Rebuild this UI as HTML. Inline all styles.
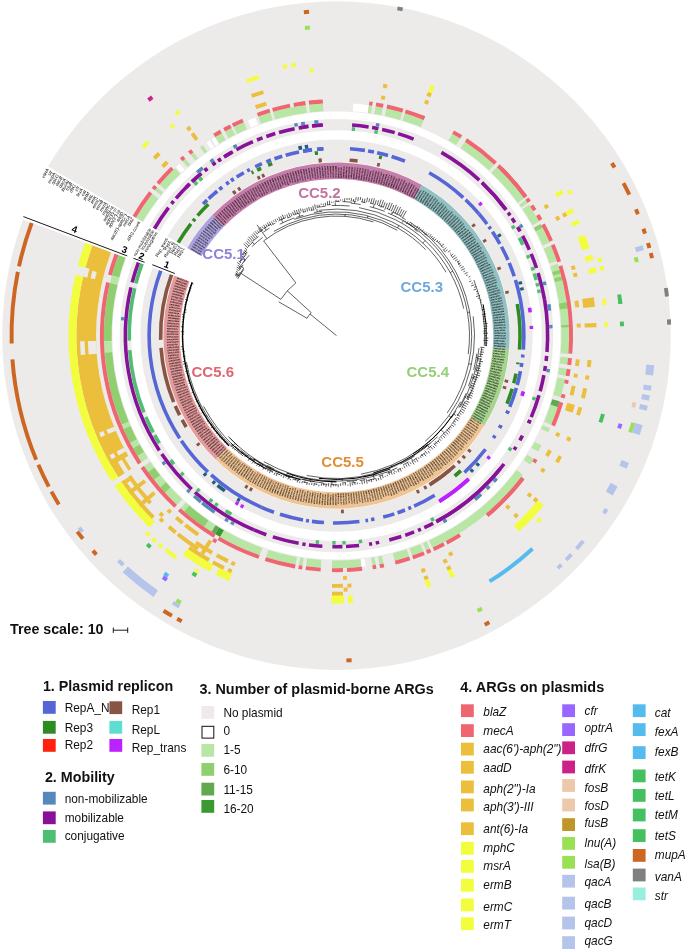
<!DOCTYPE html>
<html><head><meta charset="utf-8"><title>CC5 plasmid ARG tree</title>
<style>
html,body{margin:0;padding:0;background:#fff;}
body{width:685px;height:950px;overflow:hidden;position:relative;font-family:"Liberation Sans",Arial,sans-serif;}
svg{position:absolute;left:0;top:0;}
text{font-family:"Liberation Sans",Arial,sans-serif;}
</style></head><body>
<svg width="685" height="950" viewBox="0 0 685 950">
<circle cx="336.5" cy="335.6" r="334.3" fill="#EDEAEA"/>
<circle cx="336.5" cy="335.6" r="220.35" fill="none" stroke="#fff" stroke-width="7.30"/>
<circle cx="336.5" cy="335.6" r="200.75" fill="none" stroke="#fff" stroke-width="9.10"/>
<circle cx="336.5" cy="335.6" r="173.6" fill="#fff"/>
<path d="M215.60 459.49A173.10 173.10 0 0 1 174.15 275.55L189.53 281.24A156.70 156.70 0 0 0 227.06 447.75Z" fill="#E59A9C"/>
<path d="M484.41 425.53A173.10 173.10 0 0 1 215.60 459.49L227.06 447.75A156.70 156.70 0 0 0 470.39 417.01Z" fill="#F0C596"/>
<path d="M509.09 348.88A173.10 173.10 0 0 1 484.41 425.53L470.39 417.01A156.70 156.70 0 0 0 492.74 347.62Z" fill="#A6D48F"/>
<path d="M422.00 185.09A173.10 173.10 0 0 1 509.09 348.88L492.74 347.62A156.70 156.70 0 0 0 413.90 199.35Z" fill="#93C0C2"/>
<path d="M211.98 215.35A173.10 173.10 0 0 1 422.00 185.09L413.90 199.35A156.70 156.70 0 0 0 223.78 226.75Z" fill="#C57DA9"/>
<path d="M187.20 248.01A173.10 173.10 0 0 1 211.98 215.35L223.78 226.75A156.70 156.70 0 0 0 201.34 256.30Z" fill="#ADA3DC"/>
<g font-size="10" fill="#000" font-weight="bold"><text transform="translate(176.87 278.01) rotate(19.84) scale(0.195)" y="3.5" text-anchor="start">SRR5979190</text><text transform="translate(175.97 280.58) rotate(18.92) scale(0.195)" y="3.5" text-anchor="start">DRR8337887</text><text transform="translate(175.10 283.17) rotate(18.00) scale(0.195)" y="3.5" text-anchor="start">DRR3286012</text><text transform="translate(174.28 285.77) rotate(17.08) scale(0.195)" y="3.5" text-anchor="start">SRR4047966</text><text transform="translate(173.50 288.38) rotate(16.16) scale(0.195)" y="3.5" text-anchor="start">DRR251027</text><text transform="translate(172.76 291.00) rotate(15.24) scale(0.195)" y="3.5" text-anchor="start">SRR6468695</text><text transform="translate(172.07 293.64) rotate(14.31) scale(0.195)" y="3.5" text-anchor="start">SRR935049</text><text transform="translate(171.42 296.29) rotate(13.39) scale(0.195)" y="3.5" text-anchor="start">SRR8991394</text><text transform="translate(170.81 298.95) rotate(12.47) scale(0.195)" y="3.5" text-anchor="start">ERR1771516</text><text transform="translate(170.24 301.61) rotate(11.55) scale(0.195)" y="3.5" text-anchor="start">SRR4661099</text><text transform="translate(169.71 304.29) rotate(10.63) scale(0.195)" y="3.5" text-anchor="start">ERR958483</text><text transform="translate(169.23 306.98) rotate(9.71) scale(0.195)" y="3.5" text-anchor="start">ERR0119803</text><text transform="translate(168.79 309.67) rotate(8.79) scale(0.195)" y="3.5" text-anchor="start">DRR9420555</text><text transform="translate(168.40 312.37) rotate(7.87) scale(0.195)" y="3.5" text-anchor="start">SRR678698</text><text transform="translate(168.05 315.07) rotate(6.95) scale(0.195)" y="3.5" text-anchor="start">ERR6346484</text><text transform="translate(167.74 317.78) rotate(6.03) scale(0.195)" y="3.5" text-anchor="start">SRR0695069</text><text transform="translate(167.47 320.49) rotate(5.11) scale(0.195)" y="3.5" text-anchor="start">SRR0575594</text><text transform="translate(167.25 323.21) rotate(4.19) scale(0.195)" y="3.5" text-anchor="start">DRR9005474</text><text transform="translate(167.08 325.93) rotate(3.27) scale(0.195)" y="3.5" text-anchor="start">SRR2525594</text><text transform="translate(166.94 328.66) rotate(2.34) scale(0.195)" y="3.5" text-anchor="start">ERR109248</text><text transform="translate(166.85 331.38) rotate(1.42) scale(0.195)" y="3.5" text-anchor="start">SRR3526119</text><text transform="translate(166.81 334.11) rotate(0.50) scale(0.195)" y="3.5" text-anchor="start">ERR3721539</text><text transform="translate(166.80 336.84) rotate(-0.42) scale(0.195)" y="3.5" text-anchor="start">DRR3108359</text><text transform="translate(166.85 339.56) rotate(-1.34) scale(0.195)" y="3.5" text-anchor="start">SRR5195926</text><text transform="translate(166.93 342.29) rotate(-2.26) scale(0.195)" y="3.5" text-anchor="start">ERR7564696</text><text transform="translate(167.06 345.01) rotate(-3.18) scale(0.195)" y="3.5" text-anchor="start">ERR230798</text><text transform="translate(167.23 347.74) rotate(-4.10) scale(0.195)" y="3.5" text-anchor="start">DRR0784853</text><text transform="translate(167.45 350.45) rotate(-5.02) scale(0.195)" y="3.5" text-anchor="start">ERR1300836</text><text transform="translate(167.71 353.17) rotate(-5.94) scale(0.195)" y="3.5" text-anchor="start">SRR0712843</text><text transform="translate(168.02 355.88) rotate(-6.86) scale(0.195)" y="3.5" text-anchor="start">ERR091524</text><text transform="translate(168.36 358.58) rotate(-7.78) scale(0.195)" y="3.5" text-anchor="start">SRR053318</text><text transform="translate(168.75 361.28) rotate(-8.70) scale(0.195)" y="3.5" text-anchor="start">ERR3420796</text><text transform="translate(169.19 363.98) rotate(-9.63) scale(0.195)" y="3.5" text-anchor="start">ERR3498860</text><text transform="translate(169.67 366.66) rotate(-10.55) scale(0.195)" y="3.5" text-anchor="start">DRR0020101</text><text transform="translate(170.19 369.34) rotate(-11.47) scale(0.195)" y="3.5" text-anchor="start">DRR1887525</text><text transform="translate(170.75 372.01) rotate(-12.39) scale(0.195)" y="3.5" text-anchor="start">ERR6694543</text><text transform="translate(171.36 374.66) rotate(-13.31) scale(0.195)" y="3.5" text-anchor="start">ERR128061</text><text transform="translate(172.01 377.31) rotate(-14.23) scale(0.195)" y="3.5" text-anchor="start">SRR0579860</text><text transform="translate(172.70 379.95) rotate(-15.15) scale(0.195)" y="3.5" text-anchor="start">SRR057566</text><text transform="translate(173.43 382.58) rotate(-16.07) scale(0.195)" y="3.5" text-anchor="start">DRR3384916</text><text transform="translate(174.21 385.19) rotate(-16.99) scale(0.195)" y="3.5" text-anchor="start">SRR205584</text><text transform="translate(175.03 387.79) rotate(-17.91) scale(0.195)" y="3.5" text-anchor="start">ERR186159</text><text transform="translate(175.89 390.38) rotate(-18.83) scale(0.195)" y="3.5" text-anchor="start">SRR9072360</text><text transform="translate(176.79 392.96) rotate(-19.75) scale(0.195)" y="3.5" text-anchor="start">SRR9162051</text><text transform="translate(177.73 395.52) rotate(-20.68) scale(0.195)" y="3.5" text-anchor="start">ERR7494109</text><text transform="translate(178.71 398.06) rotate(-21.60) scale(0.195)" y="3.5" text-anchor="start">SRR1818085</text><text transform="translate(179.74 400.59) rotate(-22.52) scale(0.195)" y="3.5" text-anchor="start">SRR1323796</text><text transform="translate(180.80 403.10) rotate(-23.44) scale(0.195)" y="3.5" text-anchor="start">ERR9658616</text><text transform="translate(181.91 405.59) rotate(-24.36) scale(0.195)" y="3.5" text-anchor="start">SRR6269987</text><text transform="translate(183.05 408.07) rotate(-25.28) scale(0.195)" y="3.5" text-anchor="start">SRR221778</text><text transform="translate(184.24 410.52) rotate(-26.20) scale(0.195)" y="3.5" text-anchor="start">DRR2432985</text><text transform="translate(185.46 412.96) rotate(-27.12) scale(0.195)" y="3.5" text-anchor="start">SRR6999434</text><text transform="translate(186.72 415.38) rotate(-28.04) scale(0.195)" y="3.5" text-anchor="start">ERR7632953</text><text transform="translate(188.02 417.77) rotate(-28.96) scale(0.195)" y="3.5" text-anchor="start">ERR267937</text><text transform="translate(189.36 420.15) rotate(-29.88) scale(0.195)" y="3.5" text-anchor="start">SRR7160733</text><text transform="translate(190.74 422.50) rotate(-30.80) scale(0.195)" y="3.5" text-anchor="start">ERR4334229</text><text transform="translate(192.16 424.83) rotate(-31.72) scale(0.195)" y="3.5" text-anchor="start">ERR2052611</text><text transform="translate(193.61 427.14) rotate(-32.65) scale(0.195)" y="3.5" text-anchor="start">ERR4405795</text><text transform="translate(195.10 429.43) rotate(-33.57) scale(0.195)" y="3.5" text-anchor="start">ERR5566713</text><text transform="translate(196.62 431.69) rotate(-34.49) scale(0.195)" y="3.5" text-anchor="start">SRR628514</text><text transform="translate(198.19 433.92) rotate(-35.41) scale(0.195)" y="3.5" text-anchor="start">ERR178418</text><text transform="translate(199.78 436.13) rotate(-36.33) scale(0.195)" y="3.5" text-anchor="start">ERR7441598</text><text transform="translate(201.42 438.32) rotate(-37.25) scale(0.195)" y="3.5" text-anchor="start">SRR7850492</text><text transform="translate(203.09 440.47) rotate(-38.17) scale(0.195)" y="3.5" text-anchor="start">SRR5711825</text><text transform="translate(204.79 442.60) rotate(-39.09) scale(0.195)" y="3.5" text-anchor="start">SRR842774</text><text transform="translate(206.52 444.71) rotate(-40.01) scale(0.195)" y="3.5" text-anchor="start">SRR1288965</text><text transform="translate(208.29 446.78) rotate(-40.93) scale(0.195)" y="3.5" text-anchor="start">ERR4602078</text><text transform="translate(210.10 448.83) rotate(-41.85) scale(0.195)" y="3.5" text-anchor="start">ERR8556781</text><text transform="translate(211.93 450.84) rotate(-42.77) scale(0.195)" y="3.5" text-anchor="start">ERR124911</text><text transform="translate(213.80 452.83) rotate(-43.69) scale(0.195)" y="3.5" text-anchor="start">SRR2396629</text><text transform="translate(215.70 454.79) rotate(-44.62) scale(0.195)" y="3.5" text-anchor="start">SRR6388292</text><text transform="translate(217.63 456.71) rotate(-45.54) scale(0.195)" y="3.5" text-anchor="start">SRR5407665</text><text transform="translate(219.59 458.61) rotate(-46.46) scale(0.195)" y="3.5" text-anchor="start">SRR7847093</text><text transform="translate(221.59 460.47) rotate(-47.38) scale(0.195)" y="3.5" text-anchor="start">ERR3728733</text><text transform="translate(223.61 462.30) rotate(-48.30) scale(0.195)" y="3.5" text-anchor="start">SRR0871942</text><text transform="translate(225.66 464.10) rotate(-49.22) scale(0.195)" y="3.5" text-anchor="start">SRR190059</text><text transform="translate(227.74 465.86) rotate(-50.14) scale(0.195)" y="3.5" text-anchor="start">SRR7805555</text><text transform="translate(229.85 467.60) rotate(-51.06) scale(0.195)" y="3.5" text-anchor="start">SRR9015313</text><text transform="translate(231.98 469.29) rotate(-51.98) scale(0.195)" y="3.5" text-anchor="start">DRR7510613</text><text transform="translate(234.14 470.95) rotate(-52.90) scale(0.195)" y="3.5" text-anchor="start">SRR771863</text><text transform="translate(236.33 472.58) rotate(-53.82) scale(0.195)" y="3.5" text-anchor="start">DRR0776727</text><text transform="translate(238.54 474.17) rotate(-54.74) scale(0.195)" y="3.5" text-anchor="start">ERR5578596</text><text transform="translate(240.78 475.73) rotate(-55.67) scale(0.195)" y="3.5" text-anchor="start">SRR3452783</text><text transform="translate(243.05 477.25) rotate(-56.59) scale(0.195)" y="3.5" text-anchor="start">SRR0296820</text><text transform="translate(245.34 478.73) rotate(-57.51) scale(0.195)" y="3.5" text-anchor="start">SRR9277200</text><text transform="translate(247.65 480.18) rotate(-58.43) scale(0.195)" y="3.5" text-anchor="start">DRR560036</text><text transform="translate(249.98 481.59) rotate(-59.35) scale(0.195)" y="3.5" text-anchor="start">ERR703316</text><text transform="translate(252.34 482.96) rotate(-60.27) scale(0.195)" y="3.5" text-anchor="start">DRR2591519</text><text transform="translate(254.72 484.29) rotate(-61.19) scale(0.195)" y="3.5" text-anchor="start">ERR4747384</text><text transform="translate(257.12 485.59) rotate(-62.11) scale(0.195)" y="3.5" text-anchor="start">ERR5510619</text><text transform="translate(259.54 486.85) rotate(-63.03) scale(0.195)" y="3.5" text-anchor="start">SRR1010280</text><text transform="translate(261.98 488.06) rotate(-63.95) scale(0.195)" y="3.5" text-anchor="start">DRR3853757</text><text transform="translate(264.44 489.24) rotate(-64.87) scale(0.195)" y="3.5" text-anchor="start">ERR6496142</text><text transform="translate(266.92 490.38) rotate(-65.79) scale(0.195)" y="3.5" text-anchor="start">DRR8685862</text><text transform="translate(269.42 491.48) rotate(-66.71) scale(0.195)" y="3.5" text-anchor="start">DRR2567377</text><text transform="translate(271.93 492.54) rotate(-67.64) scale(0.195)" y="3.5" text-anchor="start">ERR2896702</text><text transform="translate(274.46 493.55) rotate(-68.56) scale(0.195)" y="3.5" text-anchor="start">SRR7115390</text><text transform="translate(277.01 494.53) rotate(-69.48) scale(0.195)" y="3.5" text-anchor="start">SRR7755013</text><text transform="translate(279.57 495.46) rotate(-70.40) scale(0.195)" y="3.5" text-anchor="start">DRR5941713</text><text transform="translate(282.14 496.36) rotate(-71.32) scale(0.195)" y="3.5" text-anchor="start">SRR2290134</text><text transform="translate(284.73 497.21) rotate(-72.24) scale(0.195)" y="3.5" text-anchor="start">SRR8868958</text><text transform="translate(287.34 498.02) rotate(-73.16) scale(0.195)" y="3.5" text-anchor="start">SRR291019</text><text transform="translate(289.95 498.79) rotate(-74.08) scale(0.195)" y="3.5" text-anchor="start">ERR3411763</text><text transform="translate(292.58 499.52) rotate(-75.00) scale(0.195)" y="3.5" text-anchor="start">SRR7569714</text><text transform="translate(295.22 500.20) rotate(-75.92) scale(0.195)" y="3.5" text-anchor="start">SRR631807</text><text transform="translate(297.87 500.85) rotate(-76.84) scale(0.195)" y="3.5" text-anchor="start">ERR5537185</text><text transform="translate(300.53 501.44) rotate(-77.76) scale(0.195)" y="3.5" text-anchor="start">DRR9833505</text><text transform="translate(303.20 502.00) rotate(-78.68) scale(0.195)" y="3.5" text-anchor="start">SRR714352</text><text transform="translate(305.88 502.52) rotate(-79.61) scale(0.195)" y="3.5" text-anchor="start">SRR9786539</text><text transform="translate(308.57 502.99) rotate(-80.53) scale(0.195)" y="3.5" text-anchor="start">DRR679040</text><text transform="translate(311.26 503.41) rotate(-81.45) scale(0.195)" y="3.5" text-anchor="start">SRR0248807</text><text transform="translate(313.96 503.80) rotate(-82.37) scale(0.195)" y="3.5" text-anchor="start">ERR3476057</text><text transform="translate(316.67 504.14) rotate(-83.29) scale(0.195)" y="3.5" text-anchor="start">SRR2174671</text><text transform="translate(319.38 504.43) rotate(-84.21) scale(0.195)" y="3.5" text-anchor="start">SRR7465264</text><text transform="translate(322.09 504.69) rotate(-85.13) scale(0.195)" y="3.5" text-anchor="start">DRR883544</text><text transform="translate(324.81 504.90) rotate(-86.05) scale(0.195)" y="3.5" text-anchor="start">ERR554380</text><text transform="translate(327.54 505.06) rotate(-86.97) scale(0.195)" y="3.5" text-anchor="start">ERR8280200</text><text transform="translate(330.26 505.19) rotate(-87.89) scale(0.195)" y="3.5" text-anchor="start">SRR558072</text><text transform="translate(332.99 505.26) rotate(-88.81) scale(0.195)" y="3.5" text-anchor="start">SRR4650981</text><text transform="translate(335.71 505.30) rotate(-89.73) scale(0.195)" y="3.5" text-anchor="start">DRR4376450</text><text transform="translate(338.30 493.29) rotate(89.34) scale(0.195)" y="3.5" text-anchor="start">ERR029326</text><text transform="translate(340.84 493.24) rotate(88.42) scale(0.195)" y="3.5" text-anchor="start">SRR8240200</text><text transform="translate(343.37 493.15) rotate(87.50) scale(0.195)" y="3.5" text-anchor="start">DRR7789865</text><text transform="translate(345.90 493.02) rotate(86.58) scale(0.195)" y="3.5" text-anchor="start">SRR4212816</text><text transform="translate(348.43 492.85) rotate(85.66) scale(0.195)" y="3.5" text-anchor="start">ERR744748</text><text transform="translate(350.95 492.64) rotate(84.74) scale(0.195)" y="3.5" text-anchor="start">SRR2806737</text><text transform="translate(353.48 492.38) rotate(83.82) scale(0.195)" y="3.5" text-anchor="start">SRR0599817</text><text transform="translate(355.99 492.09) rotate(82.90) scale(0.195)" y="3.5" text-anchor="start">SRR4161508</text><text transform="translate(358.51 491.76) rotate(81.98) scale(0.195)" y="3.5" text-anchor="start">DRR345266</text><text transform="translate(361.01 491.38) rotate(81.06) scale(0.195)" y="3.5" text-anchor="start">ERR4305596</text><text transform="translate(363.51 490.97) rotate(80.14) scale(0.195)" y="3.5" text-anchor="start">SRR0264617</text><text transform="translate(366.01 490.52) rotate(79.22) scale(0.195)" y="3.5" text-anchor="start">SRR1811041</text><text transform="translate(368.49 490.02) rotate(78.30) scale(0.195)" y="3.5" text-anchor="start">DRR7744880</text><text transform="translate(370.97 489.49) rotate(77.37) scale(0.195)" y="3.5" text-anchor="start">SRR7222276</text><text transform="translate(373.44 488.91) rotate(76.45) scale(0.195)" y="3.5" text-anchor="start">ERR6022432</text><text transform="translate(375.90 488.30) rotate(75.53) scale(0.195)" y="3.5" text-anchor="start">SRR8283616</text><text transform="translate(378.35 487.65) rotate(74.61) scale(0.195)" y="3.5" text-anchor="start">DRR0412124</text><text transform="translate(380.78 486.95) rotate(73.69) scale(0.195)" y="3.5" text-anchor="start">SRR591305</text><text transform="translate(383.21 486.22) rotate(72.77) scale(0.195)" y="3.5" text-anchor="start">SRR315871</text><text transform="translate(385.62 485.45) rotate(71.85) scale(0.195)" y="3.5" text-anchor="start">ERR058796</text><text transform="translate(388.03 484.64) rotate(70.93) scale(0.195)" y="3.5" text-anchor="start">DRR7287639</text><text transform="translate(390.42 483.80) rotate(70.01) scale(0.195)" y="3.5" text-anchor="start">ERR4254320</text><text transform="translate(392.79 482.91) rotate(69.09) scale(0.195)" y="3.5" text-anchor="start">SRR6921902</text><text transform="translate(395.15 481.99) rotate(68.17) scale(0.195)" y="3.5" text-anchor="start">ERR958417</text><text transform="translate(397.49 481.03) rotate(67.25) scale(0.195)" y="3.5" text-anchor="start">SRR529935</text><text transform="translate(399.82 480.03) rotate(66.33) scale(0.195)" y="3.5" text-anchor="start">DRR5959554</text><text transform="translate(402.14 478.99) rotate(65.40) scale(0.195)" y="3.5" text-anchor="start">ERR2198353</text><text transform="translate(404.43 477.92) rotate(64.48) scale(0.195)" y="3.5" text-anchor="start">ERR472758</text><text transform="translate(406.71 476.81) rotate(63.56) scale(0.195)" y="3.5" text-anchor="start">SRR901668</text><text transform="translate(408.97 475.66) rotate(62.64) scale(0.195)" y="3.5" text-anchor="start">SRR0366315</text><text transform="translate(411.21 474.48) rotate(61.72) scale(0.195)" y="3.5" text-anchor="start">SRR0871668</text><text transform="translate(413.43 473.26) rotate(60.80) scale(0.195)" y="3.5" text-anchor="start">ERR4585675</text><text transform="translate(415.64 472.01) rotate(59.88) scale(0.195)" y="3.5" text-anchor="start">ERR253051</text><text transform="translate(417.82 470.72) rotate(58.96) scale(0.195)" y="3.5" text-anchor="start">SRR2135643</text><text transform="translate(419.98 469.39) rotate(58.04) scale(0.195)" y="3.5" text-anchor="start">ERR8587537</text><text transform="translate(422.12 468.03) rotate(57.12) scale(0.195)" y="3.5" text-anchor="start">ERR8637244</text><text transform="translate(424.24 466.64) rotate(56.20) scale(0.195)" y="3.5" text-anchor="start">SRR1291605</text><text transform="translate(426.33 465.21) rotate(55.28) scale(0.195)" y="3.5" text-anchor="start">DRR7274263</text><text transform="translate(428.40 463.75) rotate(54.35) scale(0.195)" y="3.5" text-anchor="start">SRR946411</text><text transform="translate(430.45 462.26) rotate(53.43) scale(0.195)" y="3.5" text-anchor="start">ERR510576</text><text transform="translate(432.47 460.73) rotate(52.51) scale(0.195)" y="3.5" text-anchor="start">ERR6935361</text><text transform="translate(434.47 459.18) rotate(51.59) scale(0.195)" y="3.5" text-anchor="start">ERR8839123</text><text transform="translate(436.44 457.59) rotate(50.67) scale(0.195)" y="3.5" text-anchor="start">DRR457833</text><text transform="translate(438.39 455.96) rotate(49.75) scale(0.195)" y="3.5" text-anchor="start">SRR5929859</text><text transform="translate(440.31 454.31) rotate(48.83) scale(0.195)" y="3.5" text-anchor="start">SRR5983706</text><text transform="translate(442.21 452.63) rotate(47.91) scale(0.195)" y="3.5" text-anchor="start">ERR7321718</text><text transform="translate(444.07 450.91) rotate(46.99) scale(0.195)" y="3.5" text-anchor="start">DRR5205736</text><text transform="translate(445.91 449.17) rotate(46.07) scale(0.195)" y="3.5" text-anchor="start">ERR6563244</text><text transform="translate(447.72 447.40) rotate(45.15) scale(0.195)" y="3.5" text-anchor="start">ERR0513347</text><text transform="translate(449.51 445.59) rotate(44.23) scale(0.195)" y="3.5" text-anchor="start">SRR3733593</text><text transform="translate(451.26 443.76) rotate(43.31) scale(0.195)" y="3.5" text-anchor="start">SRR986924</text><text transform="translate(452.98 441.91) rotate(42.38) scale(0.195)" y="3.5" text-anchor="start">DRR0187709</text><text transform="translate(454.68 440.02) rotate(41.46) scale(0.195)" y="3.5" text-anchor="start">SRR8673687</text><text transform="translate(456.34 438.11) rotate(40.54) scale(0.195)" y="3.5" text-anchor="start">ERR972165</text><text transform="translate(457.97 436.17) rotate(39.62) scale(0.195)" y="3.5" text-anchor="start">SRR1582478</text><text transform="translate(459.57 434.20) rotate(38.70) scale(0.195)" y="3.5" text-anchor="start">SRR570953</text><text transform="translate(461.14 432.21) rotate(37.78) scale(0.195)" y="3.5" text-anchor="start">SRR8949485</text><text transform="translate(462.68 430.20) rotate(36.86) scale(0.195)" y="3.5" text-anchor="start">DRR0685675</text><text transform="translate(464.18 428.16) rotate(35.94) scale(0.195)" y="3.5" text-anchor="start">SRR3439615</text><text transform="translate(465.65 426.09) rotate(35.02) scale(0.195)" y="3.5" text-anchor="start">SRR5728673</text><text transform="translate(467.09 424.01) rotate(34.10) scale(0.195)" y="3.5" text-anchor="start">DRR1097328</text><text transform="translate(468.49 421.90) rotate(33.18) scale(0.195)" y="3.5" text-anchor="start">SRR1881688</text><text transform="translate(469.86 419.76) rotate(32.26) scale(0.195)" y="3.5" text-anchor="start">ERR417453</text><text transform="translate(471.20 417.61) rotate(31.34) scale(0.195)" y="3.5" text-anchor="start">ERR3175624</text><text transform="translate(472.50 415.44) rotate(30.41) scale(0.195)" y="3.5" text-anchor="start">ERR4983334</text><text transform="translate(473.76 413.24) rotate(29.49) scale(0.195)" y="3.5" text-anchor="start">ERR1121375</text><text transform="translate(474.99 411.02) rotate(28.57) scale(0.195)" y="3.5" text-anchor="start">ERR2207482</text><text transform="translate(476.19 408.79) rotate(27.65) scale(0.195)" y="3.5" text-anchor="start">ERR689966</text><text transform="translate(477.35 406.53) rotate(26.73) scale(0.195)" y="3.5" text-anchor="start">ERR8496200</text><text transform="translate(478.47 404.26) rotate(25.81) scale(0.195)" y="3.5" text-anchor="start">SRR032835</text><text transform="translate(479.55 401.97) rotate(24.89) scale(0.195)" y="3.5" text-anchor="start">ERR8953123</text><text transform="translate(480.60 399.66) rotate(23.97) scale(0.195)" y="3.5" text-anchor="start">ERR642185</text><text transform="translate(481.61 397.34) rotate(23.05) scale(0.195)" y="3.5" text-anchor="start">SRR4219121</text><text transform="translate(482.59 395.00) rotate(22.13) scale(0.195)" y="3.5" text-anchor="start">ERR8678974</text><text transform="translate(483.52 392.64) rotate(21.21) scale(0.195)" y="3.5" text-anchor="start">SRR1462005</text><text transform="translate(484.42 390.27) rotate(20.29) scale(0.195)" y="3.5" text-anchor="start">SRR5103608</text><text transform="translate(485.28 387.89) rotate(19.36) scale(0.195)" y="3.5" text-anchor="start">DRR3773053</text><text transform="translate(486.10 385.49) rotate(18.44) scale(0.195)" y="3.5" text-anchor="start">SRR6616591</text><text transform="translate(486.88 383.08) rotate(17.52) scale(0.195)" y="3.5" text-anchor="start">SRR4106095</text><text transform="translate(487.63 380.66) rotate(16.60) scale(0.195)" y="3.5" text-anchor="start">SRR7984963</text><text transform="translate(488.33 378.23) rotate(15.68) scale(0.195)" y="3.5" text-anchor="start">SRR412788</text><text transform="translate(489.00 375.78) rotate(14.76) scale(0.195)" y="3.5" text-anchor="start">ERR9927824</text><text transform="translate(489.62 373.32) rotate(13.84) scale(0.195)" y="3.5" text-anchor="start">SRR3584117</text><text transform="translate(490.21 370.86) rotate(12.92) scale(0.195)" y="3.5" text-anchor="start">ERR360007</text><text transform="translate(490.75 368.38) rotate(12.00) scale(0.195)" y="3.5" text-anchor="start">SRR0870054</text><text transform="translate(491.26 365.90) rotate(11.08) scale(0.195)" y="3.5" text-anchor="start">ERR744249</text><text transform="translate(491.73 363.41) rotate(10.16) scale(0.195)" y="3.5" text-anchor="start">ERR013312</text><text transform="translate(492.16 360.91) rotate(9.24) scale(0.195)" y="3.5" text-anchor="start">DRR2148807</text><text transform="translate(492.54 358.41) rotate(8.32) scale(0.195)" y="3.5" text-anchor="start">ERR7165866</text><text transform="translate(492.89 355.90) rotate(7.39) scale(0.195)" y="3.5" text-anchor="start">DRR9054747</text><text transform="translate(493.19 353.38) rotate(6.47) scale(0.195)" y="3.5" text-anchor="start">ERR5147673</text><text transform="translate(493.46 350.86) rotate(5.55) scale(0.195)" y="3.5" text-anchor="start">ERR3909636</text><text transform="translate(493.68 348.34) rotate(4.63) scale(0.195)" y="3.5" text-anchor="start">SRR1287466</text><text transform="translate(493.87 345.81) rotate(3.71) scale(0.195)" y="3.5" text-anchor="start">SRR6605656</text><text transform="translate(494.01 343.28) rotate(2.79) scale(0.195)" y="3.5" text-anchor="start">ERR2339061</text><text transform="translate(494.12 340.75) rotate(1.87) scale(0.195)" y="3.5" text-anchor="start">SRR776888</text><text transform="translate(494.18 338.21) rotate(0.95) scale(0.195)" y="3.5" text-anchor="start">DRR7608203</text><text transform="translate(494.20 335.68) rotate(0.03) scale(0.195)" y="3.5" text-anchor="start">SRR2681119</text><text transform="translate(494.18 333.14) rotate(-0.89) scale(0.195)" y="3.5" text-anchor="start">SRR8266223</text><text transform="translate(494.12 330.61) rotate(-1.81) scale(0.195)" y="3.5" text-anchor="start">DRR578048</text><text transform="translate(494.02 328.08) rotate(-2.73) scale(0.195)" y="3.5" text-anchor="start">ERR5863143</text><text transform="translate(493.88 325.55) rotate(-3.65) scale(0.195)" y="3.5" text-anchor="start">ERR6335315</text><text transform="translate(493.70 323.02) rotate(-4.58) scale(0.195)" y="3.5" text-anchor="start">SRR3838608</text><text transform="translate(493.47 320.49) rotate(-5.50) scale(0.195)" y="3.5" text-anchor="start">ERR2491453</text><text transform="translate(493.21 317.97) rotate(-6.42) scale(0.195)" y="3.5" text-anchor="start">ERR5338176</text><text transform="translate(492.91 315.46) rotate(-7.34) scale(0.195)" y="3.5" text-anchor="start">ERR8649483</text><text transform="translate(492.56 312.95) rotate(-8.26) scale(0.195)" y="3.5" text-anchor="start">DRR4511665</text><text transform="translate(492.18 310.44) rotate(-9.18) scale(0.195)" y="3.5" text-anchor="start">SRR4199102</text><text transform="translate(491.76 307.94) rotate(-10.10) scale(0.195)" y="3.5" text-anchor="start">ERR9235015</text><text transform="translate(491.29 305.45) rotate(-11.02) scale(0.195)" y="3.5" text-anchor="start">SRR6584077</text><text transform="translate(490.79 302.97) rotate(-11.94) scale(0.195)" y="3.5" text-anchor="start">DRR7012574</text><text transform="translate(490.24 300.49) rotate(-12.86) scale(0.195)" y="3.5" text-anchor="start">DRR7675508</text><text transform="translate(489.66 298.03) rotate(-13.78) scale(0.195)" y="3.5" text-anchor="start">ERR978707</text><text transform="translate(489.04 295.57) rotate(-14.70) scale(0.195)" y="3.5" text-anchor="start">ERR2381224</text><text transform="translate(488.37 293.12) rotate(-15.63) scale(0.195)" y="3.5" text-anchor="start">ERR5803509</text><text transform="translate(487.67 290.69) rotate(-16.55) scale(0.195)" y="3.5" text-anchor="start">ERR218757</text><text transform="translate(486.93 288.27) rotate(-17.47) scale(0.195)" y="3.5" text-anchor="start">ERR681111</text><text transform="translate(486.15 285.85) rotate(-18.39) scale(0.195)" y="3.5" text-anchor="start">SRR4150307</text><text transform="translate(485.33 283.46) rotate(-19.31) scale(0.195)" y="3.5" text-anchor="start">ERR8357945</text><text transform="translate(484.47 281.07) rotate(-20.23) scale(0.195)" y="3.5" text-anchor="start">ERR8039625</text><text transform="translate(483.58 278.70) rotate(-21.15) scale(0.195)" y="3.5" text-anchor="start">DRR729441</text><text transform="translate(482.64 276.34) rotate(-22.07) scale(0.195)" y="3.5" text-anchor="start">SRR8576388</text><text transform="translate(481.67 274.00) rotate(-22.99) scale(0.195)" y="3.5" text-anchor="start">ERR5524512</text><text transform="translate(480.66 271.68) rotate(-23.91) scale(0.195)" y="3.5" text-anchor="start">DRR9768631</text><text transform="translate(479.62 269.37) rotate(-24.83) scale(0.195)" y="3.5" text-anchor="start">ERR9570789</text><text transform="translate(478.54 267.08) rotate(-25.75) scale(0.195)" y="3.5" text-anchor="start">ERR887341</text><text transform="translate(477.42 264.80) rotate(-26.67) scale(0.195)" y="3.5" text-anchor="start">ERR762342</text><text transform="translate(476.26 262.55) rotate(-27.60) scale(0.195)" y="3.5" text-anchor="start">SRR0233791</text><text transform="translate(475.07 260.31) rotate(-28.52) scale(0.195)" y="3.5" text-anchor="start">ERR3810574</text><text transform="translate(473.84 258.10) rotate(-29.44) scale(0.195)" y="3.5" text-anchor="start">DRR5427997</text><text transform="translate(472.58 255.90) rotate(-30.36) scale(0.195)" y="3.5" text-anchor="start">ERR531380</text><text transform="translate(471.28 253.72) rotate(-31.28) scale(0.195)" y="3.5" text-anchor="start">ERR5020725</text><text transform="translate(469.95 251.57) rotate(-32.20) scale(0.195)" y="3.5" text-anchor="start">ERR5937880</text><text transform="translate(468.58 249.43) rotate(-33.12) scale(0.195)" y="3.5" text-anchor="start">ERR5294835</text><text transform="translate(467.18 247.32) rotate(-34.04) scale(0.195)" y="3.5" text-anchor="start">ERR276607</text><text transform="translate(465.74 245.23) rotate(-34.96) scale(0.195)" y="3.5" text-anchor="start">DRR9146451</text><text transform="translate(464.27 243.17) rotate(-35.88) scale(0.195)" y="3.5" text-anchor="start">ERR1606631</text><text transform="translate(462.77 241.13) rotate(-36.80) scale(0.195)" y="3.5" text-anchor="start">DRR4526560</text><text transform="translate(461.24 239.11) rotate(-37.72) scale(0.195)" y="3.5" text-anchor="start">SRR8365549</text><text transform="translate(459.67 237.12) rotate(-38.64) scale(0.195)" y="3.5" text-anchor="start">SRR5032743</text><text transform="translate(458.07 235.15) rotate(-39.57) scale(0.195)" y="3.5" text-anchor="start">SRR897264</text><text transform="translate(456.44 233.21) rotate(-40.49) scale(0.195)" y="3.5" text-anchor="start">DRR136139</text><text transform="translate(454.78 231.30) rotate(-41.41) scale(0.195)" y="3.5" text-anchor="start">ERR4468625</text><text transform="translate(453.09 229.41) rotate(-42.33) scale(0.195)" y="3.5" text-anchor="start">SRR4594336</text><text transform="translate(451.37 227.55) rotate(-43.25) scale(0.195)" y="3.5" text-anchor="start">SRR8359473</text><text transform="translate(449.62 225.72) rotate(-44.17) scale(0.195)" y="3.5" text-anchor="start">ERR8909609</text><text transform="translate(447.83 223.91) rotate(-45.09) scale(0.195)" y="3.5" text-anchor="start">SRR4952824</text><text transform="translate(446.03 222.14) rotate(-46.01) scale(0.195)" y="3.5" text-anchor="start">SRR648329</text><text transform="translate(444.19 220.39) rotate(-46.93) scale(0.195)" y="3.5" text-anchor="start">DRR3509708</text><text transform="translate(442.32 218.68) rotate(-47.85) scale(0.195)" y="3.5" text-anchor="start">DRR196564</text><text transform="translate(440.43 216.99) rotate(-48.77) scale(0.195)" y="3.5" text-anchor="start">ERR173147</text><text transform="translate(438.51 215.34) rotate(-49.69) scale(0.195)" y="3.5" text-anchor="start">ERR8139854</text><text transform="translate(436.56 213.71) rotate(-50.62) scale(0.195)" y="3.5" text-anchor="start">SRR6019023</text><text transform="translate(434.59 212.12) rotate(-51.54) scale(0.195)" y="3.5" text-anchor="start">SRR1352812</text><text transform="translate(432.60 210.56) rotate(-52.46) scale(0.195)" y="3.5" text-anchor="start">DRR015366</text><text transform="translate(430.57 209.03) rotate(-53.38) scale(0.195)" y="3.5" text-anchor="start">SRR0118432</text><text transform="translate(428.53 207.54) rotate(-54.30) scale(0.195)" y="3.5" text-anchor="start">DRR1517822</text><text transform="translate(426.46 206.07) rotate(-55.22) scale(0.195)" y="3.5" text-anchor="start">SRR7460394</text><text transform="translate(424.37 204.65) rotate(-56.14) scale(0.195)" y="3.5" text-anchor="start">ERR2290713</text><text transform="translate(422.25 203.25) rotate(-57.06) scale(0.195)" y="3.5" text-anchor="start">ERR2853860</text><text transform="translate(420.11 201.89) rotate(-57.98) scale(0.195)" y="3.5" text-anchor="start">ERR7387316</text><text transform="translate(417.95 200.56) rotate(-58.90) scale(0.195)" y="3.5" text-anchor="start">SRR3841276</text><text transform="translate(415.77 199.27) rotate(-59.82) scale(0.195)" y="3.5" text-anchor="start">ERR138621</text><text transform="translate(413.57 198.02) rotate(-60.74) scale(0.195)" y="3.5" text-anchor="start">ERR023595</text><text transform="translate(411.35 196.79) rotate(-61.66) scale(0.195)" y="3.5" text-anchor="start">DRR411599</text><text transform="translate(409.11 195.61) rotate(-62.59) scale(0.195)" y="3.5" text-anchor="start">ERR5501241</text><text transform="translate(406.85 194.46) rotate(-63.51) scale(0.195)" y="3.5" text-anchor="start">ERR9706604</text><text transform="translate(404.57 193.35) rotate(-64.43) scale(0.195)" y="3.5" text-anchor="start">ERR8531594</text><text transform="translate(402.28 192.27) rotate(-65.35) scale(0.195)" y="3.5" text-anchor="start">SRR264193</text><text transform="translate(399.97 191.23) rotate(-66.27) scale(0.195)" y="3.5" text-anchor="start">DRR6419885</text><text transform="translate(397.64 190.23) rotate(-67.19) scale(0.195)" y="3.5" text-anchor="start">SRR3896742</text><text transform="translate(395.29 189.27) rotate(-68.11) scale(0.195)" y="3.5" text-anchor="start">SRR3287569</text><text transform="translate(392.94 188.34) rotate(-69.03) scale(0.195)" y="3.5" text-anchor="start">DRR884686</text><text transform="translate(390.56 187.46) rotate(-69.95) scale(0.195)" y="3.5" text-anchor="start">ERR9951169</text><text transform="translate(388.17 186.61) rotate(-70.87) scale(0.195)" y="3.5" text-anchor="start">DRR7413799</text><text transform="translate(385.77 185.80) rotate(-71.79) scale(0.195)" y="3.5" text-anchor="start">DRR1967374</text><text transform="translate(383.36 185.02) rotate(-72.71) scale(0.195)" y="3.5" text-anchor="start">ERR4129300</text><text transform="translate(380.93 184.29) rotate(-73.63) scale(0.195)" y="3.5" text-anchor="start">DRR869660</text><text transform="translate(378.50 183.59) rotate(-74.56) scale(0.195)" y="3.5" text-anchor="start">SRR6671322</text><text transform="translate(376.05 182.94) rotate(-75.48) scale(0.195)" y="3.5" text-anchor="start">ERR9550450</text><text transform="translate(373.59 182.32) rotate(-76.40) scale(0.195)" y="3.5" text-anchor="start">SRR7503604</text><text transform="translate(371.12 181.75) rotate(-77.32) scale(0.195)" y="3.5" text-anchor="start">ERR3597176</text><text transform="translate(368.64 181.21) rotate(-78.24) scale(0.195)" y="3.5" text-anchor="start">ERR047826</text><text transform="translate(366.16 180.71) rotate(-79.16) scale(0.195)" y="3.5" text-anchor="start">SRR6811113</text><text transform="translate(363.67 180.26) rotate(-80.08) scale(0.195)" y="3.5" text-anchor="start">ERR5578063</text><text transform="translate(361.17 179.84) rotate(-81.00) scale(0.195)" y="3.5" text-anchor="start">ERR1736252</text><text transform="translate(358.66 179.46) rotate(-81.92) scale(0.195)" y="3.5" text-anchor="start">ERR8512715</text><text transform="translate(356.15 179.13) rotate(-82.84) scale(0.195)" y="3.5" text-anchor="start">SRR3127849</text><text transform="translate(353.63 178.83) rotate(-83.76) scale(0.195)" y="3.5" text-anchor="start">DRR8161311</text><text transform="translate(351.11 178.58) rotate(-84.68) scale(0.195)" y="3.5" text-anchor="start">SRR4532298</text><text transform="translate(348.58 178.36) rotate(-85.61) scale(0.195)" y="3.5" text-anchor="start">ERR3553126</text><text transform="translate(346.06 178.19) rotate(-86.53) scale(0.195)" y="3.5" text-anchor="start">ERR4405755</text><text transform="translate(343.53 178.06) rotate(-87.45) scale(0.195)" y="3.5" text-anchor="start">SRR5979153</text><text transform="translate(340.99 177.96) rotate(-88.37) scale(0.195)" y="3.5" text-anchor="start">ERR397435</text><text transform="translate(338.46 177.91) rotate(-89.29) scale(0.195)" y="3.5" text-anchor="start">ERR187252</text><text transform="translate(335.88 165.90) rotate(-270.21) scale(0.195)" y="3.5" text-anchor="start">ERR0940345</text><text transform="translate(333.15 165.93) rotate(-271.13) scale(0.195)" y="3.5" text-anchor="start">ERR9722585</text><text transform="translate(330.43 166.01) rotate(-272.05) scale(0.195)" y="3.5" text-anchor="start">SRR4561639</text><text transform="translate(327.70 166.13) rotate(-272.97) scale(0.195)" y="3.5" text-anchor="start">ERR9128077</text><text transform="translate(324.98 166.29) rotate(-273.89) scale(0.195)" y="3.5" text-anchor="start">ERR4346101</text><text transform="translate(322.26 166.50) rotate(-274.81) scale(0.195)" y="3.5" text-anchor="start">DRR8292873</text><text transform="translate(319.55 166.75) rotate(-275.73) scale(0.195)" y="3.5" text-anchor="start">ERR9606306</text><text transform="translate(316.83 167.04) rotate(-276.65) scale(0.195)" y="3.5" text-anchor="start">SRR4425031</text><text transform="translate(314.13 167.38) rotate(-277.58) scale(0.195)" y="3.5" text-anchor="start">SRR3916076</text><text transform="translate(311.43 167.76) rotate(-278.50) scale(0.195)" y="3.5" text-anchor="start">SRR315848</text><text transform="translate(308.73 168.19) rotate(-279.42) scale(0.195)" y="3.5" text-anchor="start">ERR3938997</text><text transform="translate(306.05 168.65) rotate(-280.34) scale(0.195)" y="3.5" text-anchor="start">SRR907752</text><text transform="translate(303.37 169.17) rotate(-281.26) scale(0.195)" y="3.5" text-anchor="start">ERR5046875</text><text transform="translate(300.70 169.72) rotate(-282.18) scale(0.195)" y="3.5" text-anchor="start">ERR0984281</text><text transform="translate(298.04 170.32) rotate(-283.10) scale(0.195)" y="3.5" text-anchor="start">ERR477184</text><text transform="translate(295.39 170.96) rotate(-284.02) scale(0.195)" y="3.5" text-anchor="start">ERR5643523</text><text transform="translate(292.75 171.64) rotate(-284.94) scale(0.195)" y="3.5" text-anchor="start">DRR8510087</text><text transform="translate(290.12 172.36) rotate(-285.86) scale(0.195)" y="3.5" text-anchor="start">SRR496964</text><text transform="translate(287.50 173.13) rotate(-286.78) scale(0.195)" y="3.5" text-anchor="start">ERR908681</text><text transform="translate(284.89 173.94) rotate(-287.70) scale(0.195)" y="3.5" text-anchor="start">SRR2551348</text><text transform="translate(282.30 174.79) rotate(-288.62) scale(0.195)" y="3.5" text-anchor="start">SRR455308</text><text transform="translate(279.73 175.68) rotate(-289.55) scale(0.195)" y="3.5" text-anchor="start">ERR159461</text><text transform="translate(277.16 176.61) rotate(-290.47) scale(0.195)" y="3.5" text-anchor="start">SRR5122993</text><text transform="translate(274.62 177.59) rotate(-291.39) scale(0.195)" y="3.5" text-anchor="start">SRR7743859</text><text transform="translate(272.08 178.60) rotate(-292.31) scale(0.195)" y="3.5" text-anchor="start">ERR5983552</text><text transform="translate(269.57 179.66) rotate(-293.23) scale(0.195)" y="3.5" text-anchor="start">ERR3695771</text><text transform="translate(267.07 180.75) rotate(-294.15) scale(0.195)" y="3.5" text-anchor="start">ERR6779875</text><text transform="translate(264.59 181.89) rotate(-295.07) scale(0.195)" y="3.5" text-anchor="start">ERR504210</text><text transform="translate(262.13 183.06) rotate(-295.99) scale(0.195)" y="3.5" text-anchor="start">ERR4578795</text><text transform="translate(259.69 184.28) rotate(-296.91) scale(0.195)" y="3.5" text-anchor="start">ERR3497496</text><text transform="translate(257.27 185.53) rotate(-297.83) scale(0.195)" y="3.5" text-anchor="start">SRR6537338</text><text transform="translate(254.87 186.82) rotate(-298.75) scale(0.195)" y="3.5" text-anchor="start">SRR1474287</text><text transform="translate(252.49 188.16) rotate(-299.67) scale(0.195)" y="3.5" text-anchor="start">ERR674307</text><text transform="translate(250.13 189.52) rotate(-300.60) scale(0.195)" y="3.5" text-anchor="start">ERR1360726</text><text transform="translate(247.79 190.93) rotate(-301.52) scale(0.195)" y="3.5" text-anchor="start">ERR7765094</text><text transform="translate(245.48 192.38) rotate(-302.44) scale(0.195)" y="3.5" text-anchor="start">ERR9495431</text><text transform="translate(243.19 193.86) rotate(-303.36) scale(0.195)" y="3.5" text-anchor="start">SRR8917481</text><text transform="translate(240.92 195.37) rotate(-304.28) scale(0.195)" y="3.5" text-anchor="start">DRR104555</text><text transform="translate(238.68 196.93) rotate(-305.20) scale(0.195)" y="3.5" text-anchor="start">DRR4549387</text><text transform="translate(236.47 198.52) rotate(-306.12) scale(0.195)" y="3.5" text-anchor="start">ERR8593591</text><text transform="translate(234.28 200.14) rotate(-307.04) scale(0.195)" y="3.5" text-anchor="start">SRR3438201</text><text transform="translate(232.11 201.80) rotate(-307.96) scale(0.195)" y="3.5" text-anchor="start">SRR891903</text><text transform="translate(229.98 203.50) rotate(-308.88) scale(0.195)" y="3.5" text-anchor="start">SRR695539</text><text transform="translate(227.87 205.23) rotate(-309.80) scale(0.195)" y="3.5" text-anchor="start">DRR6633673</text><text transform="translate(225.79 206.99) rotate(-310.72) scale(0.195)" y="3.5" text-anchor="start">ERR5005513</text><text transform="translate(223.73 208.79) rotate(-311.64) scale(0.195)" y="3.5" text-anchor="start">SRR349585</text><text transform="translate(221.71 210.61) rotate(-312.57) scale(0.195)" y="3.5" text-anchor="start">ERR689626</text><text transform="translate(219.72 212.48) rotate(-313.49) scale(0.195)" y="3.5" text-anchor="start">ERR794017</text><text transform="translate(217.75 214.37) rotate(-314.41) scale(0.195)" y="3.5" text-anchor="start">SRR1157494</text><text transform="translate(215.82 216.29) rotate(-315.33) scale(0.195)" y="3.5" text-anchor="start">SRR7978894</text><text transform="translate(213.92 218.25) rotate(-316.25) scale(0.195)" y="3.5" text-anchor="start">DRR0336579</text><text transform="translate(212.05 220.23) rotate(-317.17) scale(0.195)" y="3.5" text-anchor="start">SRR8453240</text><text transform="translate(210.21 222.25) rotate(-318.09) scale(0.195)" y="3.5" text-anchor="start">SRR119265</text><text transform="translate(208.40 224.29) rotate(-319.01) scale(0.195)" y="3.5" text-anchor="start">SRR004390</text><text transform="translate(206.63 226.36) rotate(-319.93) scale(0.195)" y="3.5" text-anchor="start">SRR9811495</text><text transform="translate(204.89 228.47) rotate(-320.85) scale(0.195)" y="3.5" text-anchor="start">SRR174813</text><text transform="translate(203.19 230.59) rotate(-321.77) scale(0.195)" y="3.5" text-anchor="start">ERR3898611</text><text transform="translate(201.52 232.75) rotate(-322.69) scale(0.195)" y="3.5" text-anchor="start">ERR704732</text><text transform="translate(199.88 234.93) rotate(-323.61) scale(0.195)" y="3.5" text-anchor="start">ERR574856</text><text transform="translate(198.28 237.14) rotate(-324.54) scale(0.195)" y="3.5" text-anchor="start">DRR6791852</text><text transform="translate(196.72 239.37) rotate(-325.46) scale(0.195)" y="3.5" text-anchor="start">ERR3214273</text><text transform="translate(195.19 241.63) rotate(-326.38) scale(0.195)" y="3.5" text-anchor="start">SRR1824928</text><text transform="translate(193.70 243.92) rotate(-327.30) scale(0.195)" y="3.5" text-anchor="start">ERR7836807</text><text transform="translate(192.24 246.22) rotate(-328.22) scale(0.195)" y="3.5" text-anchor="start">SRR7176457</text><text transform="translate(190.83 248.55) rotate(-329.14) scale(0.195)" y="3.5" text-anchor="start">SRR5131181</text></g>
<path d="M158.87 339.94A177.68 177.68 0 0 1 169.86 273.96L173.21 275.20A174.10 174.10 0 0 0 162.45 339.85Z" fill="#885544"/>
<path d="M171.99 402.73A177.68 177.68 0 0 1 159.25 347.99L162.82 347.74A174.10 174.10 0 0 0 175.31 401.38Z" fill="#885544"/>
<path d="M178.05 415.99A177.68 177.68 0 0 1 173.68 406.73L176.96 405.30A174.10 174.10 0 0 0 181.24 414.37Z" fill="#885544"/>
<path d="M184.68 427.91A177.68 177.68 0 0 1 180.57 420.79L183.72 419.07A174.10 174.10 0 0 0 187.74 426.05Z" fill="#885544"/>
<path d="M197.76 446.60A177.68 177.68 0 0 1 195.99 444.35L198.82 442.16A174.10 174.10 0 0 0 200.55 444.36Z" fill="#885544"/>
<path d="M178.21 439.18A189.17 189.17 0 0 1 159.08 269.97L162.44 271.21A185.59 185.59 0 0 0 181.20 437.22Z" fill="#5566D6"/>
<path d="M206.76 473.27A189.17 189.17 0 0 1 179.86 441.66L182.82 439.65A185.59 185.59 0 0 0 209.22 470.67Z" fill="#5566D6"/>
<path d="M260.77 508.95A189.17 189.17 0 0 1 209.92 476.18L212.32 473.52A185.59 185.59 0 0 0 262.20 505.67Z" fill="#5566D6"/>
<path d="M130.47 281.93A212.90 212.90 0 0 1 136.82 261.74L140.15 262.97A209.35 209.35 0 0 0 133.91 282.83Z" fill="#881199"/>
<path d="M157.85 451.40A212.90 212.90 0 0 1 129.23 286.98L132.68 287.79A209.35 209.35 0 0 0 160.82 449.47Z" fill="#881199"/>
<path d="M190.49 490.54A212.90 212.90 0 0 1 160.31 455.11L163.25 453.12A209.35 209.35 0 0 0 192.92 487.96Z" fill="#881199"/>
<path d="M253.31 531.58A212.90 212.90 0 0 1 193.77 493.57L196.15 490.93A209.35 209.35 0 0 0 254.70 528.31Z" fill="#881199"/>
<path d="M134.15 282.89A209.10 209.10 0 0 1 140.39 263.06L143.76 264.30A205.50 205.50 0 0 0 137.64 283.80Z" fill="#50BE72"/>
<path d="M127.46 340.71A209.10 209.10 0 0 1 132.92 287.85L136.43 288.67A205.50 205.50 0 0 0 131.06 340.62Z" fill="#50BE72"/>
<path d="M142.29 413.08A209.10 209.10 0 0 1 127.91 350.19L131.50 349.93A205.50 205.50 0 0 0 145.63 411.75Z" fill="#50BE72"/>
<path d="M151.62 433.28A209.10 209.10 0 0 1 144.17 417.64L147.48 416.23A205.50 205.50 0 0 0 154.80 431.60Z" fill="#50BE72"/>
<path d="M157.83 444.23A209.10 209.10 0 0 1 153.09 436.01L156.25 434.29A205.50 205.50 0 0 0 160.91 442.36Z" fill="#50BE72"/>
<path d="M172.49 465.30A209.10 209.10 0 0 1 169.21 461.04L172.09 458.88A205.50 205.50 0 0 0 175.31 463.07Z" fill="#50BE72"/>
<path d="M181.99 476.49A209.10 209.10 0 0 1 179.75 473.99L182.45 471.61A205.50 205.50 0 0 0 184.65 474.06Z" fill="#50BE72"/>
<path d="M198.39 492.59A209.10 209.10 0 0 1 195.88 490.35L198.30 487.69A205.50 205.50 0 0 0 200.76 489.89Z" fill="#50BE72"/>
<path d="M211.13 502.95A209.10 209.10 0 0 1 208.46 500.91L210.66 498.06A205.50 205.50 0 0 0 213.29 500.07Z" fill="#50BE72"/>
<path d="M216.75 507.01A209.10 209.10 0 0 1 214.01 505.06L216.12 502.15A205.50 205.50 0 0 0 218.81 504.06Z" fill="#50BE72"/>
<path d="M230.44 515.81A209.10 209.10 0 0 1 224.70 512.30L226.63 509.26A205.50 205.50 0 0 0 232.27 512.70Z" fill="#50BE72"/>
<path d="M120.84 320.37A216.20 216.20 0 0 1 121.11 316.91L124.40 317.19A212.90 212.90 0 0 0 124.13 320.60Z" fill="#5588BB"/>
<path d="M163.63 465.44A216.20 216.20 0 0 1 161.57 462.65L164.24 460.71A212.90 212.90 0 0 0 166.27 463.46Z" fill="#5588BB"/>
<path d="M188.67 493.36A216.20 216.20 0 0 1 186.15 490.96L188.45 488.59A212.90 212.90 0 0 0 190.92 490.95Z" fill="#5588BB"/>
<path d="M199.85 503.14A216.20 216.20 0 0 1 192.97 497.28L195.16 494.81A212.90 212.90 0 0 0 201.93 500.58Z" fill="#5588BB"/>
<path d="M213.64 513.50A216.20 216.20 0 0 1 201.11 504.16L203.18 501.59A212.90 212.90 0 0 0 215.52 510.79Z" fill="#5588BB"/>
<path d="M227.29 522.19A216.20 216.20 0 0 1 224.31 520.41L226.02 517.59A212.90 212.90 0 0 0 228.96 519.34Z" fill="#5588BB"/>
<path d="M233.21 525.53A216.20 216.20 0 0 1 230.17 523.84L231.79 520.97A212.90 212.90 0 0 0 234.78 522.63Z" fill="#5588BB"/>
<path d="M111.83 275.40A232.60 232.60 0 0 1 118.35 254.90L125.57 257.57A224.90 224.90 0 0 0 119.26 277.39Z" fill="#8FCF6F"/>
<path d="M109.95 282.88A232.60 232.60 0 0 1 111.83 275.40L119.26 277.39A224.90 224.90 0 0 0 117.45 284.63Z" fill="#B8E6A5"/>
<path d="M103.97 341.28A232.60 232.60 0 0 1 109.95 282.88L117.45 284.63A224.90 224.90 0 0 0 111.67 341.09Z" fill="#8FCF6F"/>
<path d="M104.52 352.64A232.60 232.60 0 0 1 103.97 341.28L111.67 341.09A224.90 224.90 0 0 0 112.20 352.07Z" fill="#B8E6A5"/>
<path d="M121.68 424.80A232.60 232.60 0 0 1 104.52 352.64L112.20 352.07A224.90 224.90 0 0 0 128.79 421.85Z" fill="#8FCF6F"/>
<path d="M123.52 429.09A232.60 232.60 0 0 1 121.68 424.80L128.79 421.85A224.90 224.90 0 0 0 130.57 426.00Z" fill="#B8E6A5"/>
<path d="M130.18 443.00A232.60 232.60 0 0 1 123.52 429.09L130.57 426.00A224.90 224.90 0 0 0 137.01 439.45Z" fill="#8FCF6F"/>
<path d="M132.97 448.19A232.60 232.60 0 0 1 130.18 443.00L137.01 439.45A224.90 224.90 0 0 0 139.70 444.46Z" fill="#B8E6A5"/>
<path d="M137.54 456.09A232.60 232.60 0 0 1 132.97 448.19L139.70 444.46A224.90 224.90 0 0 0 144.13 452.10Z" fill="#8FCF6F"/>
<path d="M141.43 462.28A232.60 232.60 0 0 1 137.54 456.09L144.13 452.10A224.90 224.90 0 0 0 147.88 458.09Z" fill="#B8E6A5"/>
<path d="M148.08 471.99A232.60 232.60 0 0 1 143.89 466.00L150.27 461.69A224.90 224.90 0 0 0 154.32 467.48Z" fill="#B8E6A5"/>
<path d="M154.21 480.08A232.60 232.60 0 0 1 148.08 471.99L154.32 467.48A224.90 224.90 0 0 0 160.25 475.30Z" fill="#8FCF6F"/>
<path d="M160.16 487.28A232.60 232.60 0 0 1 154.21 480.08L160.25 475.30A224.90 224.90 0 0 0 166.00 482.26Z" fill="#B8E6A5"/>
<path d="M165.01 492.74A232.60 232.60 0 0 1 160.16 487.28L166.00 482.26A224.90 224.90 0 0 0 170.69 487.54Z" fill="#8FCF6F"/>
<path d="M176.98 504.88A232.60 232.60 0 0 1 165.01 492.74L170.69 487.54A224.90 224.90 0 0 0 182.26 499.28Z" fill="#B8E6A5"/>
<path d="M184.21 511.41A232.60 232.60 0 0 1 180.56 508.18L185.72 502.47A224.90 224.90 0 0 0 189.25 505.59Z" fill="#B8E6A5"/>
<path d="M204.25 526.95A232.60 232.60 0 0 1 184.21 511.41L189.25 505.59A224.90 224.90 0 0 0 208.63 520.61Z" fill="#8FCF6F"/>
<path d="M211.52 531.77A232.60 232.60 0 0 1 204.25 526.95L208.63 520.61A224.90 224.90 0 0 0 215.66 525.28Z" fill="#B8E6A5"/>
<path d="M215.14 534.03A232.60 232.60 0 0 1 211.52 531.77L215.66 525.28A224.90 224.90 0 0 0 219.16 527.46Z" fill="#62A850"/>
<path d="M220.20 537.04A232.60 232.60 0 0 1 215.14 534.03L219.16 527.46A224.90 224.90 0 0 0 224.05 530.37Z" fill="#3A9A30"/>
<path d="M259.81 555.20A232.60 232.60 0 0 1 220.20 537.04L224.05 530.37A224.90 224.90 0 0 0 262.35 547.93Z" fill="#B8E6A5"/>
<path d="M108.03 274.38A236.53 236.53 0 0 1 114.66 253.54L118.35 254.90A232.60 232.60 0 0 0 111.83 275.40Z" fill="#EF6570"/>
<path d="M138.13 464.42A236.53 236.53 0 0 1 106.13 281.99L109.95 282.88A232.60 232.60 0 0 0 141.43 462.28Z" fill="#EF6570"/>
<path d="M174.28 507.74A236.53 236.53 0 0 1 140.64 468.21L143.89 466.00A232.60 232.60 0 0 0 176.98 504.88Z" fill="#EF6570"/>
<path d="M213.62 537.71A236.53 236.53 0 0 1 177.92 511.10L180.56 508.18A232.60 232.60 0 0 0 215.66 534.35Z" fill="#EF6570"/>
<path d="M258.32 558.84A236.53 236.53 0 0 1 217.52 540.03L219.50 536.63A232.60 232.60 0 0 0 259.62 555.13Z" fill="#EF6570"/>
<path d="M215.40 543.34A240.46 240.46 0 0 1 212.08 541.37L214.11 538.00A236.53 236.53 0 0 0 217.38 539.94Z" fill="#EF6570"/>
<path d="M118.35 477.27A260.11 260.11 0 0 1 92.55 245.36L110.98 252.18A240.46 240.46 0 0 0 134.83 466.56Z" fill="#EBBF3B"/>
<path d="M90.56 278.21A252.55 252.55 0 0 1 92.40 270.81L96.78 271.97A248.02 248.02 0 0 0 94.97 279.24Z" fill="#EDEAEA"/>
<path d="M82.86 276.62A260.41 260.41 0 0 1 85.15 267.50L89.52 268.68A255.88 255.88 0 0 0 87.27 277.65Z" fill="#EDEAEA"/>
<path d="M88.59 354.39A248.62 248.62 0 0 1 87.94 341.10L96.40 340.91A240.16 240.16 0 0 0 97.03 353.75Z" fill="#EDEAEA"/>
<path d="M80.75 354.98A256.48 256.48 0 0 1 80.08 341.27L84.61 341.17A251.95 251.95 0 0 0 85.27 354.64Z" fill="#EDEAEA"/>
<path d="M108.19 434.02A248.62 248.62 0 0 1 106.44 429.86L114.27 426.65A240.16 240.16 0 0 0 115.96 430.67Z" fill="#EDEAEA"/>
<path d="M100.97 437.13A256.48 256.48 0 0 1 99.17 432.84L103.36 431.12A251.95 251.95 0 0 0 105.13 435.34Z" fill="#EDEAEA"/>
<path d="M118.68 455.45A248.62 248.62 0 0 1 116.53 451.47L124.02 447.53A240.16 240.16 0 0 0 126.09 451.37Z" fill="#EDEAEA"/>
<path d="M111.79 459.24A256.48 256.48 0 0 1 109.58 455.14L113.59 453.03A251.95 251.95 0 0 0 115.76 457.06Z" fill="#EDEAEA"/>
<path d="M131.43 469.08A244.69 244.69 0 0 1 124.68 458.09L128.60 455.83A240.16 240.16 0 0 0 135.22 466.61Z" fill="#EDEAEA"/>
<path d="M124.84 473.37A252.55 252.55 0 0 1 117.87 462.03L121.80 459.76A248.02 248.02 0 0 0 128.63 470.90Z" fill="#EDEAEA"/>
<path d="M77.78 265.79A267.97 267.97 0 0 1 85.17 242.63L92.55 245.36A260.11 260.11 0 0 0 85.37 267.84Z" fill="#F2FD3E"/>
<path d="M111.76 481.55A267.97 267.97 0 0 1 75.56 274.64L83.21 276.42A260.11 260.11 0 0 0 118.35 477.27Z" fill="#F2FD3E"/>
<path d="M149.35 527.38A267.97 267.97 0 0 1 114.74 486.03L121.24 481.62A260.11 260.11 0 0 0 154.84 521.76Z" fill="#F2FD3E"/>
<path d="M151.93 518.88A260.11 260.11 0 0 1 121.24 481.62L124.49 479.41A256.18 256.18 0 0 0 154.72 516.11Z" fill="#EBBF3B"/>
<path d="M149.04 504.39A252.25 252.25 0 0 1 127.75 477.20L131.00 475.00A248.32 248.32 0 0 0 151.96 501.76Z" fill="#EBBF3B"/>
<path d="M130.58 494.52A260.11 260.11 0 0 1 128.06 491.19L143.80 479.44A240.46 240.46 0 0 0 146.14 482.52Z" fill="#EBBF3B"/>
<path d="M140.97 507.14A260.11 260.11 0 0 1 138.24 503.97L153.22 491.25A240.46 240.46 0 0 0 155.74 494.18Z" fill="#EBBF3B"/>
<path d="M127.06 483.13A256.18 256.18 0 0 1 124.72 479.74L127.97 477.53A252.25 252.25 0 0 0 130.27 480.86Z" fill="#EBBF3B"/>
<path d="M161.46 517.24A252.25 252.25 0 0 1 158.57 514.40L161.34 511.62A248.32 248.32 0 0 0 164.19 514.41Z" fill="#EBBF3B"/>
<path d="M161.66 522.84A256.18 256.18 0 0 1 158.67 520.00L161.40 517.17A252.25 252.25 0 0 0 164.34 519.97Z" fill="#EBBF3B"/>
<path d="M169.39 513.93A244.39 244.39 0 0 1 166.55 511.22L169.28 508.40A240.46 240.46 0 0 0 172.08 511.06Z" fill="#EBBF3B"/>
<path d="M17.08 265.96A326.92 326.92 0 0 1 29.89 222.18L33.57 223.54A322.99 322.99 0 0 0 20.92 266.79Z" fill="#CC6622"/>
<path d="M9.68 343.59A326.92 326.92 0 0 1 15.92 271.54L19.77 272.31A322.99 322.99 0 0 0 13.61 343.49Z" fill="#CC6622"/>
<path d="M34.36 460.44A326.92 326.92 0 0 1 10.46 359.54L14.38 359.26A322.99 322.99 0 0 0 37.99 458.94Z" fill="#CC6622"/>
<path d="M47.05 487.57A326.92 326.92 0 0 1 36.54 465.59L40.14 464.03A322.99 322.99 0 0 0 50.53 485.74Z" fill="#CC6622"/>
<path d="M57.16 505.44A326.92 326.92 0 0 1 49.74 492.59L53.19 490.71A322.99 322.99 0 0 0 60.52 503.40Z" fill="#CC6622"/>
<path d="M273.36 513.92A189.17 189.17 0 0 1 260.77 508.95L262.20 505.67A185.59 185.59 0 0 0 274.56 510.55Z" fill="#5566D6"/>
<path d="M302.69 521.72A189.17 189.17 0 0 1 279.39 515.94L280.47 512.53A185.59 185.59 0 0 0 303.33 518.20Z" fill="#5566D6"/>
<path d="M308.74 522.72A189.17 189.17 0 0 1 305.70 522.25L306.28 518.71A185.59 185.59 0 0 0 309.27 519.18Z" fill="#5566D6"/>
<path d="M323.84 524.35A189.17 189.17 0 0 1 311.72 523.14L312.19 519.59A185.59 185.59 0 0 0 324.08 520.77Z" fill="#5566D6"/>
<path d="M359.62 523.35A189.17 189.17 0 0 1 332.96 524.74L333.03 521.16A185.59 185.59 0 0 0 359.18 519.80Z" fill="#5566D6"/>
<path d="M368.35 522.07A189.17 189.17 0 0 1 365.73 522.50L365.18 518.96A185.59 185.59 0 0 0 367.75 518.54Z" fill="#5566D6"/>
<path d="M374.78 520.86A189.17 189.17 0 0 1 371.40 521.52L370.74 518.00A185.59 185.59 0 0 0 374.06 517.35Z" fill="#5566D6"/>
<path d="M343.91 513.13A177.68 177.68 0 0 1 341.06 513.22L340.97 509.64A174.10 174.10 0 0 0 343.76 509.55Z" fill="#885544"/>
<path d="M265.70 536.38A212.90 212.90 0 0 1 253.31 531.58L254.70 528.31A209.35 209.35 0 0 0 266.88 533.04Z" fill="#881199"/>
<path d="M298.34 545.05A212.90 212.90 0 0 1 272.31 538.59L273.38 535.21A209.35 209.35 0 0 0 298.97 541.56Z" fill="#881199"/>
<path d="M305.33 546.21A212.90 212.90 0 0 1 302.06 545.70L302.63 542.19A209.35 209.35 0 0 0 305.85 542.69Z" fill="#881199"/>
<path d="M322.26 548.02A212.90 212.90 0 0 1 308.70 546.68L309.16 543.16A209.35 209.35 0 0 0 322.50 544.48Z" fill="#881199"/>
<path d="M342.45 548.42A212.90 212.90 0 0 1 332.36 548.46L332.43 544.91A209.35 209.35 0 0 0 342.35 544.87Z" fill="#881199"/>
<path d="M359.25 547.28A212.90 212.90 0 0 1 346.08 548.28L345.93 544.74A209.35 209.35 0 0 0 358.87 543.75Z" fill="#881199"/>
<path d="M372.39 545.45A212.90 212.90 0 0 1 369.37 545.95L368.82 542.44A209.35 209.35 0 0 0 371.79 541.95Z" fill="#881199"/>
<path d="M379.52 544.11A212.90 212.90 0 0 1 376.05 544.79L375.39 541.31A209.35 209.35 0 0 0 378.80 540.63Z" fill="#881199"/>
<path d="M318.87 543.96A209.10 209.10 0 0 1 315.52 543.65L315.88 540.06A205.50 205.50 0 0 0 319.17 540.37Z" fill="#50BE72"/>
<path d="M335.65 544.70A209.10 209.10 0 0 1 332.29 544.66L332.36 541.06A205.50 205.50 0 0 0 335.67 541.10Z" fill="#50BE72"/>
<path d="M345.76 544.49A209.10 209.10 0 0 1 342.40 544.62L342.30 541.02A205.50 205.50 0 0 0 345.60 540.90Z" fill="#50BE72"/>
<path d="M362.34 543.10A209.10 209.10 0 0 1 359.00 543.49L358.61 539.91A205.50 205.50 0 0 0 361.89 539.53Z" fill="#50BE72"/>
<path d="M295.61 564.58A232.60 232.60 0 0 1 265.97 557.25L268.30 549.91A224.90 224.90 0 0 0 296.96 557.00Z" fill="#B8E6A5"/>
<path d="M294.92 568.45A236.53 236.53 0 0 1 264.77 560.99L265.97 557.25A232.60 232.60 0 0 0 295.61 564.58Z" fill="#EF6570"/>
<path d="M302.60 565.72A232.60 232.60 0 0 1 298.89 565.14L300.13 557.54A224.90 224.90 0 0 0 303.72 558.10Z" fill="#B8E6A5"/>
<path d="M302.03 569.60A236.53 236.53 0 0 1 298.25 569.02L298.89 565.14A232.60 232.60 0 0 0 302.60 565.72Z" fill="#EF6570"/>
<path d="M320.82 567.67A232.60 232.60 0 0 1 306.06 566.20L307.06 558.57A224.90 224.90 0 0 0 321.34 559.99Z" fill="#B8E6A5"/>
<path d="M320.55 571.59A236.53 236.53 0 0 1 305.54 570.10L306.06 566.20A232.60 232.60 0 0 0 320.82 567.67Z" fill="#EF6570"/>
<path d="M375.76 564.86A232.60 232.60 0 0 1 372.29 565.43L371.11 557.82A224.90 224.90 0 0 0 374.46 557.27Z" fill="#B8E6A5"/>
<path d="M376.43 568.74A236.53 236.53 0 0 1 372.89 569.31L372.29 565.43A232.60 232.60 0 0 0 375.76 564.86Z" fill="#EF6570"/>
<path d="M383.51 563.40A232.60 232.60 0 0 1 379.39 564.21L377.97 556.64A224.90 224.90 0 0 0 381.95 555.86Z" fill="#B8E6A5"/>
<path d="M384.30 567.25A236.53 236.53 0 0 1 380.11 568.07L379.39 564.21A232.60 232.60 0 0 0 383.51 563.40Z" fill="#EF6570"/>
<path d="M361.35 566.87A232.60 232.60 0 0 1 331.95 568.16L332.10 560.46A224.90 224.90 0 0 0 360.53 559.21Z" fill="#B8E6A5"/>
<path d="M343.06 572.04A236.53 236.53 0 0 1 331.96 572.09L332.04 568.16A232.60 232.60 0 0 0 342.95 568.11Z" fill="#EF6570"/>
<path d="M362.34 570.71A236.53 236.53 0 0 1 347.10 571.89L346.93 567.97A232.60 232.60 0 0 0 361.91 566.81Z" fill="#EF6570"/>
<path d="M365.60 566.37A232.60 232.60 0 0 1 361.52 566.85L360.70 559.19A224.90 224.90 0 0 0 364.64 558.73Z" fill="#FFFFFF"/>
<path d="M347.05 579.76A244.39 244.39 0 0 1 343.12 579.90L343.02 575.97A240.46 240.46 0 0 0 346.88 575.84Z" fill="#EBBF3B"/>
<path d="M343.05 587.77A252.25 252.25 0 0 1 331.97 587.81L332.04 583.88A248.32 248.32 0 0 0 342.94 583.84Z" fill="#EBBF3B"/>
<path d="M351.55 587.40A252.25 252.25 0 0 1 347.51 587.61L347.33 583.68A248.32 248.32 0 0 0 351.32 583.48Z" fill="#EBBF3B"/>
<path d="M347.75 591.53A256.18 256.18 0 0 1 343.64 591.68L343.53 587.75A252.25 252.25 0 0 0 347.58 587.61Z" fill="#EBBF3B"/>
<path d="M343.06 595.63A260.11 260.11 0 0 1 331.96 595.67L332.03 591.74A256.18 256.18 0 0 0 342.96 591.70Z" fill="#EBBF3B"/>
<path d="M344.13 603.46A267.97 267.97 0 0 1 331.31 603.52L331.46 595.66A260.11 260.11 0 0 0 343.90 595.60Z" fill="#F2FD3E"/>
<path d="M352.85 603.07A267.97 267.97 0 0 1 348.19 603.31L347.85 595.46A260.11 260.11 0 0 0 352.37 595.23Z" fill="#F2FD3E"/>
<path d="M419.97 492.45A177.68 177.68 0 0 1 417.44 493.77L415.81 490.59A174.10 174.10 0 0 0 418.29 489.29Z" fill="#885544"/>
<path d="M427.40 488.27A177.68 177.68 0 0 1 424.93 489.71L423.15 486.61A174.10 174.10 0 0 0 425.56 485.19Z" fill="#885544"/>
<path d="M450.93 471.52A177.68 177.68 0 0 1 430.60 486.32L428.70 483.28A174.10 174.10 0 0 0 448.63 468.78Z" fill="#885544"/>
<path d="M461.95 472.03A185.34 185.34 0 0 1 455.95 477.31L453.64 474.58A181.76 181.76 0 0 0 459.53 469.40Z" fill="#2E8B22"/>
<path d="M394.83 515.55A189.17 189.17 0 0 1 383.62 518.81L382.73 515.34A185.59 185.59 0 0 0 393.72 512.15Z" fill="#5566D6"/>
<path d="M405.66 511.68A189.17 189.17 0 0 1 398.11 514.46L396.94 511.07A185.59 185.59 0 0 0 404.35 508.34Z" fill="#5566D6"/>
<path d="M411.91 509.09A189.17 189.17 0 0 1 408.97 510.34L407.60 507.03A185.59 185.59 0 0 0 410.48 505.81Z" fill="#5566D6"/>
<path d="M435.65 496.70A189.17 189.17 0 0 1 414.82 507.80L413.34 504.54A185.59 185.59 0 0 0 433.77 493.66Z" fill="#5566D6"/>
<path d="M470.08 480.17A196.83 196.83 0 0 1 440.18 502.91L438.30 499.87A193.25 193.25 0 0 0 467.65 477.54Z" fill="#BB22FF"/>
<path d="M401.85 538.22A212.90 212.90 0 0 1 389.71 541.74L388.82 538.31A209.35 209.35 0 0 0 400.76 534.84Z" fill="#881199"/>
<path d="M414.78 533.58A212.90 212.90 0 0 1 405.86 536.89L404.70 533.53A209.35 209.35 0 0 0 413.48 530.28Z" fill="#881199"/>
<path d="M421.62 530.74A212.90 212.90 0 0 1 418.61 532.03L417.25 528.75A209.35 209.35 0 0 0 420.20 527.49Z" fill="#881199"/>
<path d="M433.97 524.88A212.90 212.90 0 0 1 425.02 529.23L423.54 526.00A209.35 209.35 0 0 0 432.34 521.72Z" fill="#881199"/>
<path d="M501.37 470.30A212.90 212.90 0 0 1 437.18 523.19L435.50 520.06A209.35 209.35 0 0 0 498.62 468.06Z" fill="#881199"/>
<path d="M434.73 520.19A209.10 209.10 0 0 1 431.75 521.75L430.11 518.54A205.50 205.50 0 0 0 433.04 517.01Z" fill="#50BE72"/>
<path d="M447.20 521.31A216.20 216.20 0 0 1 444.20 523.07L442.55 520.21A212.90 212.90 0 0 0 445.51 518.48Z" fill="#5588BB"/>
<path d="M482.10 495.42A216.20 216.20 0 0 1 476.36 500.47L474.23 497.95A212.90 212.90 0 0 0 479.88 492.98Z" fill="#5588BB"/>
<path d="M490.35 487.50A216.20 216.20 0 0 1 487.89 489.95L485.58 487.59A212.90 212.90 0 0 0 488.00 485.18Z" fill="#5588BB"/>
<path d="M497.86 479.49A216.20 216.20 0 0 1 495.53 482.06L493.10 479.83A212.90 212.90 0 0 0 495.40 477.29Z" fill="#5588BB"/>
<path d="M409.16 556.56A232.60 232.60 0 0 1 394.76 560.79L392.83 553.33A224.90 224.90 0 0 0 406.75 549.25Z" fill="#B8E6A5"/>
<path d="M410.38 560.29A236.53 236.53 0 0 1 395.74 564.59L394.76 560.79A232.60 232.60 0 0 0 409.16 556.56Z" fill="#EF6570"/>
<path d="M423.33 551.39A232.60 232.60 0 0 1 412.06 555.59L409.55 548.30A224.90 224.90 0 0 0 420.45 544.24Z" fill="#B8E6A5"/>
<path d="M424.80 555.03A236.53 236.53 0 0 1 413.33 559.30L412.06 555.59A232.60 232.60 0 0 0 423.33 551.39Z" fill="#EF6570"/>
<path d="M429.87 548.64A232.60 232.60 0 0 1 425.87 550.34L422.92 543.24A224.90 224.90 0 0 0 426.78 541.58Z" fill="#B8E6A5"/>
<path d="M431.45 552.24A236.53 236.53 0 0 1 427.38 553.97L425.87 550.34A232.60 232.60 0 0 0 429.87 548.64Z" fill="#EF6570"/>
<path d="M522.93 474.69A232.60 232.60 0 0 1 432.48 547.47L429.30 540.46A224.90 224.90 0 0 0 516.76 470.09Z" fill="#B8E6A5"/>
<path d="M444.93 545.81A236.53 236.53 0 0 1 434.34 550.95L432.71 547.37A232.60 232.60 0 0 0 443.13 542.32Z" fill="#EF6570"/>
<path d="M461.04 536.69A236.53 236.53 0 0 1 447.52 544.46L445.67 540.99A232.60 232.60 0 0 0 458.97 533.34Z" fill="#EF6570"/>
<path d="M524.12 479.63A236.53 236.53 0 0 1 488.46 516.86L485.94 513.85A232.60 232.60 0 0 0 521.00 477.24Z" fill="#EF6570"/>
<path d="M453.34 554.71A248.32 248.32 0 0 1 449.80 556.56L448.01 553.07A244.39 244.39 0 0 0 451.49 551.25Z" fill="#EBBF3B"/>
<path d="M447.89 561.92A252.25 252.25 0 0 1 444.24 563.68L442.56 560.13A248.32 248.32 0 0 0 446.15 558.40Z" fill="#EBBF3B"/>
<path d="M451.54 568.89A260.11 260.11 0 0 1 447.78 570.70L446.10 567.15A256.18 256.18 0 0 0 449.80 565.36Z" fill="#EBBF3B"/>
<path d="M454.85 576.02A267.97 267.97 0 0 1 450.97 577.89L447.61 570.78A260.11 260.11 0 0 0 451.38 568.97Z" fill="#F2FD3E"/>
<path d="M425.86 571.49A252.25 252.25 0 0 1 422.06 572.90L420.72 569.20A248.32 248.32 0 0 0 424.47 567.82Z" fill="#EBBF3B"/>
<path d="M428.75 578.80A260.11 260.11 0 0 1 424.83 580.25L423.49 576.56A256.18 256.18 0 0 0 427.35 575.13Z" fill="#EBBF3B"/>
<path d="M431.29 586.24A267.97 267.97 0 0 1 427.25 587.73L424.59 580.34A260.11 260.11 0 0 0 428.51 578.89Z" fill="#F2FD3E"/>
<path d="M510.64 507.07A244.39 244.39 0 0 1 507.86 509.84L505.11 507.04A240.46 240.46 0 0 0 507.84 504.31Z" fill="#EBBF3B"/>
<path d="M518.85 515.54A256.18 256.18 0 0 1 515.93 518.45L513.18 515.64A252.25 252.25 0 0 0 516.05 512.78Z" fill="#EBBF3B"/>
<path d="M533.84 550.21A291.55 291.55 0 0 1 490.57 583.12L488.49 579.78A287.62 287.62 0 0 0 531.18 547.32Z" fill="#55BBEE"/>
<path d="M148.12 537.09A275.83 275.83 0 0 1 144.91 534.03L147.64 531.21A271.90 271.90 0 0 0 150.81 534.22Z" fill="#F2FD3E"/>
<path d="M154.59 542.94A275.83 275.83 0 0 1 151.28 539.99L153.92 537.08A271.90 271.90 0 0 0 157.18 539.99Z" fill="#F2FD3E"/>
<path d="M161.03 548.42A275.83 275.83 0 0 1 157.63 545.57L160.18 542.58A271.90 271.90 0 0 0 163.53 545.39Z" fill="#F2FD3E"/>
<path d="M197.49 573.84A275.83 275.83 0 0 1 193.68 571.58L195.71 568.21A271.90 271.90 0 0 0 199.47 570.45Z" fill="#F2FD3E"/>
<path d="M175.15 559.32A275.83 275.83 0 0 1 164.42 551.17L166.87 548.10A271.90 271.90 0 0 0 177.45 556.13Z" fill="#F2FD3E"/>
<path d="M149.26 548.73A283.69 283.69 0 0 1 145.86 545.69L148.50 542.78A279.76 279.76 0 0 0 151.86 545.77Z" fill="#44C060"/>
<path d="M195.35 577.14A279.76 279.76 0 0 1 191.48 574.84L193.52 571.48A275.83 275.83 0 0 0 197.33 573.75Z" fill="#44C060"/>
<path d="M209.87 571.76A267.97 267.97 0 0 1 182.80 555.11L187.31 548.67A260.11 260.11 0 0 0 213.58 564.84Z" fill="#F2FD3E"/>
<path d="M228.79 580.97A267.97 267.97 0 0 1 215.68 574.79L219.22 567.77A260.11 260.11 0 0 0 231.95 573.77Z" fill="#F2FD3E"/>
<path d="M167.01 577.64A295.48 295.48 0 0 1 163.14 574.88L165.45 571.70A291.55 291.55 0 0 0 169.26 574.42Z" fill="#55BBEE"/>
<path d="M165.75 581.55A299.41 299.41 0 0 1 161.82 578.78L164.12 575.58A295.48 295.48 0 0 0 168.00 578.32Z" fill="#9966FF"/>
<path d="M181.38 524.45A244.39 244.39 0 0 1 174.88 518.92L177.48 515.97A240.46 240.46 0 0 0 183.87 521.41Z" fill="#EBBF3B"/>
<path d="M174.41 533.98A256.18 256.18 0 0 1 167.59 528.21L170.18 525.25A252.25 252.25 0 0 0 176.90 530.94Z" fill="#EBBF3B"/>
<path d="M197.02 536.28A244.39 244.39 0 0 1 184.03 526.60L186.48 523.52A240.46 240.46 0 0 0 199.27 533.05Z" fill="#EBBF3B"/>
<path d="M196.97 550.45A256.18 256.18 0 0 1 176.67 535.81L179.13 532.74A252.25 252.25 0 0 0 199.11 547.15Z" fill="#EBBF3B"/>
<path d="M208.02 561.76A260.11 260.11 0 0 1 188.05 549.19L190.29 545.96A256.18 256.18 0 0 0 209.96 558.35Z" fill="#EBBF3B"/>
<path d="M211.14 554.49A252.25 252.25 0 0 1 194.71 544.23L196.92 540.98A248.32 248.32 0 0 0 213.09 551.08Z" fill="#EBBF3B"/>
<path d="M204.02 554.87A256.18 256.18 0 0 1 200.52 552.71L208.86 539.39A240.46 240.46 0 0 0 212.15 541.41Z" fill="#EBBF3B"/>
<path d="M227.11 562.90A252.25 252.25 0 0 1 215.75 557.07L217.63 553.62A248.32 248.32 0 0 0 228.81 559.36Z" fill="#EBBF3B"/>
<path d="M223.09 569.68A260.11 260.11 0 0 1 211.99 563.97L213.87 560.52A256.18 256.18 0 0 0 224.80 566.15Z" fill="#EBBF3B"/>
<path d="M234.14 566.15A252.25 252.25 0 0 1 230.45 564.48L232.10 560.91A248.32 248.32 0 0 0 235.74 562.56Z" fill="#EBBF3B"/>
<path d="M230.95 573.33A260.11 260.11 0 0 1 227.15 571.61L228.80 568.04A256.18 256.18 0 0 0 232.55 569.74Z" fill="#EBBF3B"/>
<path d="M246.75 488.95A177.68 177.68 0 0 1 244.30 487.48L246.15 484.42A174.10 174.10 0 0 0 248.56 485.86Z" fill="#885544"/>
<path d="M251.34 491.54A177.68 177.68 0 0 1 248.84 490.15L250.61 487.04A174.10 174.10 0 0 0 253.05 488.40Z" fill="#885544"/>
<path d="M204.90 476.78A193.00 193.00 0 0 1 202.65 474.64L205.13 472.06A189.42 189.42 0 0 0 207.34 474.16Z" fill="#1F5F80"/>
<path d="M213.89 484.65A193.00 193.00 0 0 1 211.51 482.66L213.83 479.94A189.42 189.42 0 0 0 216.17 481.89Z" fill="#1F5F80"/>
<path d="M223.83 492.30A193.00 193.00 0 0 1 216.40 486.68L218.63 483.88A189.42 189.42 0 0 0 225.92 489.39Z" fill="#1F5F80"/>
<path d="M239.01 502.17A193.00 193.00 0 0 1 236.35 500.58L238.20 497.52A189.42 189.42 0 0 0 240.82 499.08Z" fill="#1F5F80"/>
<path d="M237.37 505.65A196.83 196.83 0 0 1 234.65 504.03L236.51 500.97A193.25 193.25 0 0 0 239.18 502.55Z" fill="#BB22FF"/>
<path d="M242.61 508.59A196.83 196.83 0 0 1 239.84 507.06L241.60 503.94A193.25 193.25 0 0 0 244.32 505.45Z" fill="#BB22FF"/>
<path d="M456.00 467.10A177.68 177.68 0 0 1 430.60 486.32L428.70 483.28A174.10 174.10 0 0 0 453.59 464.45Z" fill="#885544"/>
<path d="M461.17 462.20A177.68 177.68 0 0 1 459.12 464.19L456.65 461.60A174.10 174.10 0 0 0 458.66 459.65Z" fill="#885544"/>
<path d="M466.07 457.18A177.68 177.68 0 0 1 464.10 459.24L461.53 456.75A174.10 174.10 0 0 0 463.46 454.73Z" fill="#885544"/>
<path d="M471.72 450.87A177.68 177.68 0 0 1 469.85 453.02L467.16 450.66A174.10 174.10 0 0 0 468.99 448.54Z" fill="#885544"/>
<path d="M461.95 472.03A185.34 185.34 0 0 1 455.95 477.31L453.64 474.58A181.76 181.76 0 0 0 459.53 469.40Z" fill="#2E8B22"/>
<path d="M486.93 450.31A189.17 189.17 0 0 1 465.68 473.80L463.23 471.18A185.59 185.59 0 0 0 484.08 448.14Z" fill="#5566D6"/>
<path d="M496.56 436.43A189.17 189.17 0 0 1 494.91 438.99L491.92 437.04A185.59 185.59 0 0 0 493.53 434.53Z" fill="#5566D6"/>
<path d="M502.61 426.11A189.17 189.17 0 0 1 501.14 428.77L498.02 427.01A185.59 185.59 0 0 0 499.47 424.40Z" fill="#5566D6"/>
<path d="M509.81 411.41A189.17 189.17 0 0 1 508.57 414.19L505.32 412.70A185.59 185.59 0 0 0 506.53 409.98Z" fill="#5566D6"/>
<path d="M474.21 470.82A193.00 193.00 0 0 1 472.02 473.01L469.51 470.46A189.42 189.42 0 0 0 471.66 468.31Z" fill="#1F5F80"/>
<path d="M480.08 464.57A193.00 193.00 0 0 1 477.99 466.86L475.37 464.42A189.42 189.42 0 0 0 477.42 462.18Z" fill="#1F5F80"/>
<path d="M469.58 480.63A196.83 196.83 0 0 1 440.18 502.91L438.30 499.87A193.25 193.25 0 0 0 467.16 477.99Z" fill="#BB22FF"/>
<path d="M491.03 457.52A196.83 196.83 0 0 1 489.05 459.99L486.27 457.72A193.25 193.25 0 0 0 488.21 455.30Z" fill="#BB22FF"/>
<path d="M505.47 465.12A212.90 212.90 0 0 1 437.18 523.19L435.50 520.06A209.35 209.35 0 0 0 502.65 462.96Z" fill="#881199"/>
<path d="M517.45 447.78A212.90 212.90 0 0 1 515.62 450.67L512.64 448.75A209.35 209.35 0 0 0 514.43 445.91Z" fill="#881199"/>
<path d="M524.04 436.38A212.90 212.90 0 0 1 521.39 441.16L518.30 439.40A209.35 209.35 0 0 0 520.91 434.70Z" fill="#881199"/>
<path d="M531.65 420.71A212.90 212.90 0 0 1 530.26 423.83L527.03 422.36A209.35 209.35 0 0 0 528.39 419.29Z" fill="#881199"/>
<path d="M512.45 448.58A209.10 209.10 0 0 1 510.61 451.40L507.61 449.40A205.50 205.50 0 0 0 509.42 446.64Z" fill="#50BE72"/>
<path d="M481.88 495.62A216.20 216.20 0 0 1 476.13 500.66L474.00 498.14A212.90 212.90 0 0 0 479.66 493.18Z" fill="#5588BB"/>
<path d="M490.45 487.40A216.20 216.20 0 0 1 487.99 489.85L485.68 487.50A212.90 212.90 0 0 0 488.10 485.08Z" fill="#5588BB"/>
<path d="M497.29 480.14A216.20 216.20 0 0 1 494.94 482.70L492.52 480.45A212.90 212.90 0 0 0 494.83 477.93Z" fill="#5588BB"/>
<path d="M447.20 521.31A216.20 216.20 0 0 1 444.20 523.07L442.55 520.21A212.90 212.90 0 0 0 445.51 518.48Z" fill="#5588BB"/>
<path d="M521.64 476.41A232.60 232.60 0 0 1 432.48 547.47L429.30 540.46A224.90 224.90 0 0 0 515.51 471.75Z" fill="#B8E6A5"/>
<path d="M533.85 458.71A232.60 232.60 0 0 1 530.15 464.44L523.74 460.18A224.90 224.90 0 0 0 527.32 454.64Z" fill="#B8E6A5"/>
<path d="M541.48 445.54A232.60 232.60 0 0 1 538.17 451.50L531.49 447.67A224.90 224.90 0 0 0 534.69 441.90Z" fill="#B8E6A5"/>
<path d="M549.62 428.79A232.60 232.60 0 0 1 548.23 431.91L541.22 428.72A224.90 224.90 0 0 0 542.56 425.71Z" fill="#B8E6A5"/>
<path d="M524.50 479.14A236.53 236.53 0 0 1 488.46 516.86L485.94 513.85A232.60 232.60 0 0 0 521.37 476.76Z" fill="#EF6570"/>
<path d="M537.54 460.21A236.53 236.53 0 0 1 535.52 463.43L532.21 461.30A232.60 232.60 0 0 0 534.20 458.14Z" fill="#EF6570"/>
<path d="M543.87 505.33A267.97 267.97 0 0 1 519.26 531.58L513.89 525.83A260.11 260.11 0 0 0 537.78 500.35Z" fill="#F2FD3E"/>
<path d="M541.95 519.65A275.83 275.83 0 0 1 538.96 522.93L536.08 520.26A271.90 271.90 0 0 0 539.02 517.03Z" fill="#F2FD3E"/>
<path d="M532.27 494.67A252.25 252.25 0 0 1 529.69 497.80L526.68 495.27A248.32 248.32 0 0 0 529.22 492.19Z" fill="#EBBF3B"/>
<path d="M538.45 499.53A260.11 260.11 0 0 1 535.79 502.76L532.78 500.23A256.18 256.18 0 0 0 535.40 497.06Z" fill="#EBBF3B"/>
<path d="M545.53 469.66A248.32 248.32 0 0 1 543.34 473.00L540.07 470.82A244.39 244.39 0 0 0 542.22 467.54Z" fill="#EBBF3B"/>
<path d="M551.85 451.15A244.39 244.39 0 0 1 548.61 456.99L545.20 455.04A240.46 240.46 0 0 0 548.38 449.29Z" fill="#EBBF3B"/>
<path d="M562.02 457.12A256.18 256.18 0 0 1 558.62 463.24L555.21 461.28A252.25 252.25 0 0 0 558.56 455.26Z" fill="#EBBF3B"/>
<path d="M560.38 433.60A244.39 244.39 0 0 1 558.78 437.18L555.20 435.55A240.46 240.46 0 0 0 556.78 432.02Z" fill="#EBBF3B"/>
<path d="M571.36 437.91A256.18 256.18 0 0 1 569.69 441.67L566.11 440.05A252.25 252.25 0 0 0 567.76 436.34Z" fill="#EBBF3B"/>
<path d="M574.92 405.00A248.32 248.32 0 0 1 572.57 412.63L565.10 410.19A240.46 240.46 0 0 0 567.38 402.80Z" fill="#EBBF3B"/>
<path d="M582.28 407.84A256.18 256.18 0 0 1 579.83 415.70L576.10 414.47A252.25 252.25 0 0 0 578.51 406.73Z" fill="#EBBF3B"/>
<path d="M519.06 303.64A185.34 185.34 0 0 1 521.30 349.78L517.73 349.50A181.76 181.76 0 0 0 515.54 304.26Z" fill="#2E8B22"/>
<path d="M519.84 362.73A185.34 185.34 0 0 1 519.57 364.50L516.04 363.94A181.76 181.76 0 0 0 516.30 362.21Z" fill="#2E8B22"/>
<path d="M517.81 374.02A185.34 185.34 0 0 1 515.49 383.70L512.03 382.77A181.76 181.76 0 0 0 514.31 373.28Z" fill="#2E8B22"/>
<path d="M513.92 389.19A185.34 185.34 0 0 1 508.60 404.40L505.27 403.07A181.76 181.76 0 0 0 510.50 388.15Z" fill="#2E8B22"/>
<path d="M522.24 299.76A189.17 189.17 0 0 1 525.14 349.73L521.57 349.46A185.59 185.59 0 0 0 518.73 300.44Z" fill="#5566D6"/>
<path d="M524.70 354.70A189.17 189.17 0 0 1 524.37 357.72L520.82 357.30A185.59 185.59 0 0 0 521.14 354.34Z" fill="#5566D6"/>
<path d="M523.62 363.35A189.17 189.17 0 0 1 523.00 367.26L519.47 366.66A185.59 185.59 0 0 0 520.08 362.83Z" fill="#5566D6"/>
<path d="M522.22 371.55A189.17 189.17 0 0 1 518.96 385.54L515.51 384.59A185.59 185.59 0 0 0 518.71 370.87Z" fill="#5566D6"/>
<path d="M518.09 388.61A189.17 189.17 0 0 1 511.44 407.59L508.13 406.23A185.59 185.59 0 0 0 514.65 387.61Z" fill="#5566D6"/>
<path d="M509.75 411.57A189.17 189.17 0 0 1 508.50 414.34L505.25 412.85A185.59 185.59 0 0 0 506.47 410.13Z" fill="#5566D6"/>
<path d="M502.61 426.11A189.17 189.17 0 0 1 501.14 428.77L498.02 427.01A185.59 185.59 0 0 0 499.47 424.40Z" fill="#5566D6"/>
<path d="M531.30 307.43A196.83 196.83 0 0 1 531.93 312.14L528.37 312.56A193.25 193.25 0 0 0 527.76 307.95Z" fill="#BB22FF"/>
<path d="M533.08 325.75A196.83 196.83 0 0 1 533.22 328.91L529.64 329.03A193.25 193.25 0 0 0 529.51 325.93Z" fill="#BB22FF"/>
<path d="M525.11 391.90A196.83 196.83 0 0 1 523.70 396.43L520.29 395.32A193.25 193.25 0 0 0 521.68 390.87Z" fill="#BB22FF"/>
<path d="M508.49 380.19A177.68 177.68 0 0 1 507.76 382.95L504.30 381.99A174.10 174.10 0 0 0 505.03 379.29Z" fill="#885544"/>
<path d="M506.66 386.73A177.68 177.68 0 0 1 505.82 389.46L502.41 388.37A174.10 174.10 0 0 0 503.24 385.70Z" fill="#885544"/>
<path d="M546.33 299.60A212.90 212.90 0 0 1 548.76 352.14L545.22 351.86A209.35 209.35 0 0 0 542.84 300.20Z" fill="#881199"/>
<path d="M548.41 356.08A212.90 212.90 0 0 1 547.86 361.18L544.33 360.76A209.35 209.35 0 0 0 544.88 355.74Z" fill="#881199"/>
<path d="M547.19 366.21A212.90 212.90 0 0 1 546.39 371.28L542.89 370.68A209.35 209.35 0 0 0 543.67 365.70Z" fill="#881199"/>
<path d="M545.63 375.50A212.90 212.90 0 0 1 541.88 391.68L538.46 390.74A209.35 209.35 0 0 0 542.14 374.84Z" fill="#881199"/>
<path d="M540.71 395.80A212.90 212.90 0 0 1 532.89 417.79L529.62 416.42A209.35 209.35 0 0 0 537.31 394.80Z" fill="#881199"/>
<path d="M531.58 420.86A212.90 212.90 0 0 1 530.19 423.98L526.96 422.51A209.35 209.35 0 0 0 528.33 419.44Z" fill="#881199"/>
<path d="M550.56 305.22A216.20 216.20 0 0 1 551.23 310.39L547.95 310.78A212.90 212.90 0 0 0 547.29 305.69Z" fill="#5588BB"/>
<path d="M552.43 324.80A216.20 216.20 0 0 1 552.58 328.27L549.28 328.38A212.90 212.90 0 0 0 549.13 324.97Z" fill="#5588BB"/>
<path d="M550.08 369.18A216.20 216.20 0 0 1 549.51 372.61L546.26 372.05A212.90 212.90 0 0 0 546.82 368.67Z" fill="#5588BB"/>
<path d="M536.22 397.53A209.10 209.10 0 0 1 535.20 400.74L531.78 399.61A205.50 205.50 0 0 0 532.78 396.47Z" fill="#50BE72"/>
<path d="M566.27 299.42A232.60 232.60 0 0 1 568.38 353.90L560.70 353.29A224.90 224.90 0 0 0 558.66 300.62Z" fill="#B8E6A5"/>
<path d="M566.86 303.40A232.60 232.60 0 0 1 567.51 308.42L559.86 309.32A224.90 224.90 0 0 0 559.24 304.47Z" fill="#8FCF6F"/>
<path d="M568.85 324.77A232.60 232.60 0 0 1 568.95 327.22L561.25 327.50A224.90 224.90 0 0 0 561.16 325.13Z" fill="#8FCF6F"/>
<path d="M568.07 357.48A232.60 232.60 0 0 1 567.29 364.54L559.65 363.58A224.90 224.90 0 0 0 560.40 356.75Z" fill="#B8E6A5"/>
<path d="M566.74 368.68A232.60 232.60 0 0 1 565.63 375.63L558.04 374.31A224.90 224.90 0 0 0 559.11 367.59Z" fill="#B8E6A5"/>
<path d="M565.02 378.95A232.60 232.60 0 0 1 560.87 396.93L553.44 394.90A224.90 224.90 0 0 0 557.46 377.52Z" fill="#B8E6A5"/>
<path d="M559.61 401.36A232.60 232.60 0 0 1 557.80 407.23L550.47 404.86A224.90 224.90 0 0 0 552.23 399.18Z" fill="#62A850"/>
<path d="M557.80 407.23A232.60 232.60 0 0 1 551.32 424.79L544.21 421.84A224.90 224.90 0 0 0 550.47 404.86Z" fill="#B8E6A5"/>
<path d="M549.82 428.32A232.60 232.60 0 0 1 548.17 432.03L541.16 428.83A224.90 224.90 0 0 0 542.76 425.25Z" fill="#B8E6A5"/>
<path d="M570.28 299.65A236.53 236.53 0 0 1 572.33 353.78L568.41 353.48A232.60 232.60 0 0 0 566.40 300.25Z" fill="#EF6570"/>
<path d="M571.94 358.28A236.53 236.53 0 0 1 571.16 365.27L567.26 364.78A232.60 232.60 0 0 0 568.03 357.91Z" fill="#EF6570"/>
<path d="M570.60 369.43A236.53 236.53 0 0 1 569.50 376.33L565.63 375.65A232.60 232.60 0 0 0 566.71 368.87Z" fill="#EF6570"/>
<path d="M568.78 380.22A236.53 236.53 0 0 1 568.04 383.95L564.19 383.14A232.60 232.60 0 0 0 564.92 379.48Z" fill="#EF6570"/>
<path d="M565.50 394.81A236.53 236.53 0 0 1 564.52 398.48L560.73 397.44A232.60 232.60 0 0 0 561.69 393.82Z" fill="#EF6570"/>
<path d="M563.24 402.96A236.53 236.53 0 0 1 554.92 426.38L551.29 424.87A232.60 232.60 0 0 0 559.47 401.84Z" fill="#EF6570"/>
<path d="M578.33 300.33A244.39 244.39 0 0 1 579.20 306.94L575.30 307.41A240.46 240.46 0 0 0 574.44 300.89Z" fill="#EBBF3B"/>
<path d="M593.75 297.14A260.11 260.11 0 0 1 595.01 306.82L583.30 308.12A248.32 248.32 0 0 0 582.09 298.88Z" fill="#EBBF3B"/>
<path d="M605.89 298.74A271.90 271.90 0 0 1 606.64 304.70L602.73 305.14A267.97 267.97 0 0 0 602.00 299.27Z" fill="#F2FD3E"/>
<path d="M621.79 299.06A287.62 287.62 0 0 1 622.34 303.65L618.43 304.08A283.69 283.69 0 0 0 617.89 299.56Z" fill="#44C060"/>
<path d="M580.59 323.53A244.39 244.39 0 0 1 580.75 327.45L576.83 327.58A240.46 240.46 0 0 0 576.67 323.72Z" fill="#EBBF3B"/>
<path d="M596.31 323.05A260.11 260.11 0 0 1 596.48 327.23L584.69 327.61A248.32 248.32 0 0 0 584.53 323.62Z" fill="#EBBF3B"/>
<path d="M608.08 322.31A271.90 271.90 0 0 1 608.25 326.68L604.33 326.81A267.97 267.97 0 0 0 604.15 322.50Z" fill="#F2FD3E"/>
<path d="M623.78 321.59A287.62 287.62 0 0 1 623.97 326.21L620.04 326.34A283.69 283.69 0 0 0 619.85 321.78Z" fill="#44C060"/>
<path d="M579.72 359.52A244.39 244.39 0 0 1 578.97 366.16L575.07 365.67A240.46 240.46 0 0 0 575.81 359.14Z" fill="#EBBF3B"/>
<path d="M591.49 360.23A256.18 256.18 0 0 1 590.73 367.19L586.83 366.70A252.25 252.25 0 0 0 587.58 359.85Z" fill="#EBBF3B"/>
<path d="M577.85 374.00A244.39 244.39 0 0 1 577.21 377.87L573.34 377.19A240.46 240.46 0 0 0 573.97 373.38Z" fill="#EBBF3B"/>
<path d="M589.50 375.85A256.18 256.18 0 0 1 588.82 379.91L584.95 379.23A252.25 252.25 0 0 0 585.62 375.23Z" fill="#EBBF3B"/>
<path d="M575.59 386.20A244.39 244.39 0 0 1 573.37 395.76L569.56 394.79A240.46 240.46 0 0 0 571.75 385.39Z" fill="#EBBF3B"/>
<path d="M587.13 388.64A256.18 256.18 0 0 1 584.80 398.66L580.99 397.70A252.25 252.25 0 0 0 583.28 387.83Z" fill="#EBBF3B"/>
<path d="M604.91 414.49A279.76 279.76 0 0 1 602.23 423.08L598.50 421.85A275.83 275.83 0 0 0 601.14 413.38Z" fill="#44C060"/>
<path d="M622.46 424.34A299.41 299.41 0 0 1 621.00 428.92L617.26 427.69A295.48 295.48 0 0 0 618.71 423.17Z" fill="#9966FF"/>
<path d="M485.41 238.66A177.68 177.68 0 0 1 486.94 241.07L483.91 242.97A174.10 174.10 0 0 0 482.41 240.61Z" fill="#885544"/>
<path d="M500.16 266.41A177.68 177.68 0 0 1 501.25 269.05L497.93 270.39A174.10 174.10 0 0 0 496.86 267.81Z" fill="#885544"/>
<path d="M508.36 290.48A177.68 177.68 0 0 1 509.06 293.25L505.58 294.10A174.10 174.10 0 0 0 504.89 291.39Z" fill="#885544"/>
<path d="M480.33 212.72A189.17 189.17 0 0 1 488.45 222.92L485.58 225.06A185.59 185.59 0 0 0 477.60 215.05Z" fill="#5566D6"/>
<path d="M490.39 225.59A189.17 189.17 0 0 1 492.14 228.07L489.19 230.11A185.59 185.59 0 0 0 487.48 227.67Z" fill="#5566D6"/>
<path d="M493.93 230.71A189.17 189.17 0 0 1 501.39 242.88L498.27 244.64A185.59 185.59 0 0 0 490.95 232.70Z" fill="#5566D6"/>
<path d="M503.05 245.90A189.17 189.17 0 0 1 509.60 259.30L506.32 260.74A185.59 185.59 0 0 0 499.90 247.59Z" fill="#5566D6"/>
<path d="M510.86 262.22A189.17 189.17 0 0 1 515.93 275.69L512.54 276.82A185.59 185.59 0 0 0 507.56 263.61Z" fill="#5566D6"/>
<path d="M517.16 279.51A189.17 189.17 0 0 1 522.24 299.76L518.73 300.44A185.59 185.59 0 0 0 513.75 280.58Z" fill="#5566D6"/>
<path d="M500.07 233.17A193.00 193.00 0 0 1 501.70 235.81L498.63 237.66A189.42 189.42 0 0 0 497.04 235.07Z" fill="#1F5F80"/>
<path d="M521.59 280.93A193.00 193.00 0 0 1 522.45 283.91L519.00 284.87A189.42 189.42 0 0 0 518.16 281.94Z" fill="#1F5F80"/>
<path d="M523.28 286.98A193.00 193.00 0 0 1 524.03 289.99L520.55 290.83A189.42 189.42 0 0 0 519.81 287.88Z" fill="#1F5F80"/>
<path d="M483.42 181.52A212.90 212.90 0 0 1 506.93 208.01L504.09 210.13A209.35 209.35 0 0 0 480.97 184.08Z" fill="#881199"/>
<path d="M509.58 211.62A212.90 212.90 0 0 1 511.55 214.42L508.63 216.44A209.35 209.35 0 0 0 506.69 213.69Z" fill="#881199"/>
<path d="M513.46 217.24A212.90 212.90 0 0 1 516.27 221.54L513.27 223.44A209.35 209.35 0 0 0 510.51 219.21Z" fill="#881199"/>
<path d="M519.05 226.05A212.90 212.90 0 0 1 521.64 230.48L518.55 232.23A209.35 209.35 0 0 0 516.01 227.88Z" fill="#881199"/>
<path d="M524.16 235.06A212.90 212.90 0 0 1 530.97 248.95L527.72 250.39A209.35 209.35 0 0 0 521.03 236.73Z" fill="#881199"/>
<path d="M532.82 253.24A212.90 212.90 0 0 1 538.20 267.46L534.84 268.60A209.35 209.35 0 0 0 529.55 254.61Z" fill="#881199"/>
<path d="M539.81 272.44A212.90 212.90 0 0 1 546.33 299.60L542.84 300.20A209.35 209.35 0 0 0 536.42 273.49Z" fill="#881199"/>
<path d="M513.86 224.85A209.10 209.10 0 0 1 515.62 227.72L512.54 229.58A205.50 205.50 0 0 0 510.81 226.76Z" fill="#50BE72"/>
<path d="M520.94 237.09A209.10 209.10 0 0 1 524.45 243.97L521.22 245.55A205.50 205.50 0 0 0 517.76 238.78Z" fill="#50BE72"/>
<path d="M529.21 254.44A209.10 209.10 0 0 1 530.49 257.55L527.15 258.89A205.50 205.50 0 0 0 525.89 255.84Z" fill="#50BE72"/>
<path d="M533.88 266.58A209.10 209.10 0 0 1 534.97 269.76L531.55 270.90A205.50 205.50 0 0 0 530.48 267.77Z" fill="#50BE72"/>
<path d="M536.01 273.02A209.10 209.10 0 0 1 537.92 279.46L534.46 280.43A205.50 205.50 0 0 0 532.58 274.09Z" fill="#50BE72"/>
<path d="M538.80 282.71A209.10 209.10 0 0 1 539.62 285.97L536.13 286.82A205.50 205.50 0 0 0 535.32 283.62Z" fill="#50BE72"/>
<path d="M540.38 289.16A209.10 209.10 0 0 1 541.10 292.44L537.57 293.18A205.50 205.50 0 0 0 536.87 289.96Z" fill="#50BE72"/>
<path d="M521.59 223.87A216.20 216.20 0 0 1 523.36 226.86L520.51 228.52A212.90 212.90 0 0 0 518.76 225.57Z" fill="#5588BB"/>
<path d="M545.76 281.27A216.20 216.20 0 0 1 546.61 284.64L543.40 285.41A212.90 212.90 0 0 0 542.57 282.10Z" fill="#5588BB"/>
<path d="M550.39 304.05A216.20 216.20 0 0 1 550.87 307.49L547.59 307.92A212.90 212.90 0 0 0 547.12 304.53Z" fill="#5588BB"/>
<path d="M496.91 167.16A232.60 232.60 0 0 1 523.92 197.85L517.72 202.41A224.90 224.90 0 0 0 491.60 172.73Z" fill="#B8E6A5"/>
<path d="M525.52 200.05A232.60 232.60 0 0 1 527.68 203.11L521.35 207.49A224.90 224.90 0 0 0 519.27 204.54Z" fill="#B8E6A5"/>
<path d="M528.92 204.93A232.60 232.60 0 0 1 539.20 221.51L532.49 225.29A224.90 224.90 0 0 0 522.55 209.25Z" fill="#B8E6A5"/>
<path d="M540.56 223.96A232.60 232.60 0 0 1 542.72 228.01L535.90 231.58A224.90 224.90 0 0 0 533.80 227.66Z" fill="#8FCF6F"/>
<path d="M542.72 228.01A232.60 232.60 0 0 1 549.67 242.53L542.61 245.61A224.90 224.90 0 0 0 535.90 231.58Z" fill="#B8E6A5"/>
<path d="M550.94 245.50A232.60 232.60 0 0 1 556.82 261.03L549.53 263.50A224.90 224.90 0 0 0 543.84 248.49Z" fill="#B8E6A5"/>
<path d="M557.74 263.81A232.60 232.60 0 0 1 566.27 299.42L558.66 300.62A224.90 224.90 0 0 0 550.42 266.19Z" fill="#B8E6A5"/>
<path d="M559.63 269.90A232.60 232.60 0 0 1 560.66 273.50L553.24 275.55A224.90 224.90 0 0 0 552.24 272.08Z" fill="#8FCF6F"/>
<path d="M561.48 276.53A232.60 232.60 0 0 1 562.40 280.16L554.92 281.99A224.90 224.90 0 0 0 554.03 278.49Z" fill="#8FCF6F"/>
<path d="M566.71 302.34A232.60 232.60 0 0 1 567.21 306.04L559.58 307.02A224.90 224.90 0 0 0 559.09 303.44Z" fill="#8FCF6F"/>
<path d="M502.68 167.28A236.53 236.53 0 0 1 527.06 195.48L523.90 197.81A232.60 232.60 0 0 0 499.92 170.08Z" fill="#EF6570"/>
<path d="M528.58 197.58A236.53 236.53 0 0 1 530.78 200.68L527.55 202.92A232.60 232.60 0 0 0 525.39 199.87Z" fill="#EF6570"/>
<path d="M533.31 204.40A236.53 236.53 0 0 1 536.41 209.18L533.09 211.28A232.60 232.60 0 0 0 530.04 206.58Z" fill="#EF6570"/>
<path d="M539.44 214.10A236.53 236.53 0 0 1 542.31 219.02L538.89 220.96A232.60 232.60 0 0 0 536.07 216.12Z" fill="#EF6570"/>
<path d="M544.78 223.50A236.53 236.53 0 0 1 552.92 240.15L549.32 241.74A232.60 232.60 0 0 0 541.32 225.37Z" fill="#EF6570"/>
<path d="M554.54 243.93A236.53 236.53 0 0 1 561.02 261.20L557.29 262.43A232.60 232.60 0 0 0 550.92 245.45Z" fill="#EF6570"/>
<path d="M562.30 265.16A236.53 236.53 0 0 1 570.28 299.65L566.40 300.25A232.60 232.60 0 0 0 558.55 266.33Z" fill="#EF6570"/>
<path d="M561.34 189.81A267.97 267.97 0 0 1 563.65 193.44L556.99 197.61A260.11 260.11 0 0 0 554.74 194.08Z" fill="#F2FD3E"/>
<path d="M570.26 189.19A275.83 275.83 0 0 1 572.59 192.96L569.22 194.99A271.90 271.90 0 0 0 566.93 191.27Z" fill="#F2FD3E"/>
<path d="M546.95 203.79A248.32 248.32 0 0 1 549.04 207.19L545.68 209.22A244.39 244.39 0 0 0 543.62 205.87Z" fill="#EBBF3B"/>
<path d="M558.37 215.58A252.25 252.25 0 0 1 560.27 219.16L556.78 220.98A248.32 248.32 0 0 0 554.91 217.45Z" fill="#EBBF3B"/>
<path d="M565.39 212.04A260.11 260.11 0 0 1 567.35 215.74L563.86 217.55A256.18 256.18 0 0 0 561.93 213.91Z" fill="#EBBF3B"/>
<path d="M572.31 208.31A267.97 267.97 0 0 1 574.32 212.12L567.35 215.74A260.11 260.11 0 0 0 565.39 212.04Z" fill="#F2FD3E"/>
<path d="M578.04 219.56A267.97 267.97 0 0 1 579.88 223.46L572.74 226.75A260.11 260.11 0 0 0 570.96 222.96Z" fill="#F2FD3E"/>
<path d="M584.75 234.70A267.97 267.97 0 0 1 589.75 248.00L582.32 250.57A260.11 260.11 0 0 0 577.47 237.66Z" fill="#F2FD3E"/>
<path d="M591.99 254.79A267.97 267.97 0 0 1 593.50 259.73L585.97 261.95A260.11 260.11 0 0 0 584.50 257.16Z" fill="#F2FD3E"/>
<path d="M600.96 257.21A275.83 275.83 0 0 1 602.18 261.47L598.40 262.53A271.90 271.90 0 0 0 597.19 258.33Z" fill="#F2FD3E"/>
<path d="M595.64 267.36A267.97 267.97 0 0 1 596.90 272.37L589.27 274.23A260.11 260.11 0 0 0 588.04 269.36Z" fill="#F2FD3E"/>
<path d="M603.35 265.79A275.83 275.83 0 0 1 604.44 270.09L600.62 271.02A271.90 271.90 0 0 0 599.55 266.79Z" fill="#F2FD3E"/>
<path d="M574.64 265.24A248.32 248.32 0 0 1 575.74 269.07L571.96 270.13A244.39 244.39 0 0 0 570.87 266.35Z" fill="#EBBF3B"/>
<path d="M576.68 272.54A248.32 248.32 0 0 1 577.66 276.41L573.85 277.35A244.39 244.39 0 0 0 572.88 273.54Z" fill="#EBBF3B"/>
<path d="M430.04 171.17A189.17 189.17 0 0 1 464.45 196.26L462.02 198.90A185.59 185.59 0 0 0 428.27 174.29Z" fill="#5566D6"/>
<path d="M466.83 198.49A189.17 189.17 0 0 1 480.33 212.72L477.60 215.05A185.59 185.59 0 0 0 464.37 201.09Z" fill="#5566D6"/>
<path d="M480.68 201.60A196.83 196.83 0 0 1 482.81 203.94L480.15 206.33A193.25 193.25 0 0 0 478.05 204.04Z" fill="#BB22FF"/>
<path d="M442.25 150.82A212.90 212.90 0 0 1 480.51 178.79L478.11 181.41A209.35 209.35 0 0 0 440.48 153.90Z" fill="#881199"/>
<path d="M483.10 181.21A212.90 212.90 0 0 1 507.56 208.85L504.70 210.96A209.35 209.35 0 0 0 480.65 183.79Z" fill="#881199"/>
<path d="M452.16 133.79A232.60 232.60 0 0 1 460.16 138.60L456.07 145.12A224.90 224.90 0 0 0 448.33 140.47Z" fill="#B8E6A5"/>
<path d="M454.11 130.38A236.53 236.53 0 0 1 462.25 135.27L460.16 138.60A232.60 232.60 0 0 0 452.16 133.79Z" fill="#EF6570"/>
<path d="M464.89 141.64A232.60 232.60 0 0 1 494.24 164.66L489.02 170.32A224.90 224.90 0 0 0 460.64 148.06Z" fill="#B8E6A5"/>
<path d="M467.05 138.36A236.53 236.53 0 0 1 496.91 161.77L494.24 164.66A232.60 232.60 0 0 0 464.89 141.64Z" fill="#EF6570"/>
<path d="M496.91 167.16A232.60 232.60 0 0 1 524.15 198.16L517.94 202.71A224.90 224.90 0 0 0 491.60 172.73Z" fill="#B8E6A5"/>
<path d="M499.62 164.31A236.53 236.53 0 0 1 527.32 195.84L524.15 198.16A232.60 232.60 0 0 0 496.91 167.16Z" fill="#EF6570"/>
<path d="M430.77 84.76A267.97 267.97 0 0 1 434.79 86.31L431.91 93.62A260.11 260.11 0 0 0 428.01 92.12Z" fill="#F2FD3E"/>
<path d="M427.89 92.07A260.11 260.11 0 0 1 431.79 93.57L430.35 97.23A256.18 256.18 0 0 0 426.51 95.75Z" fill="#EBBF3B"/>
<path d="M425.41 99.54A252.25 252.25 0 0 1 429.19 101.00L427.75 104.65A248.32 248.32 0 0 0 424.02 103.22Z" fill="#EBBF3B"/>
<path d="M318.40 158.84A177.68 177.68 0 0 1 321.24 158.58L321.55 162.14A174.10 174.10 0 0 0 318.77 162.41Z" fill="#885544"/>
<path d="M349.76 158.42A177.68 177.68 0 0 1 357.82 159.20L357.39 162.76A174.10 174.10 0 0 0 349.50 161.99Z" fill="#885544"/>
<path d="M377.49 162.71A177.68 177.68 0 0 1 380.26 163.39L379.38 166.86A174.10 174.10 0 0 0 376.67 166.20Z" fill="#885544"/>
<path d="M314.68 151.55A185.34 185.34 0 0 1 317.64 151.22L318.00 154.78A181.76 181.76 0 0 0 315.10 155.10Z" fill="#2E8B22"/>
<path d="M379.43 155.30A185.34 185.34 0 0 1 382.32 156.01L381.44 159.48A181.76 181.76 0 0 0 378.60 158.78Z" fill="#2E8B22"/>
<path d="M302.79 149.46A189.17 189.17 0 0 1 311.35 148.11L311.82 151.66A185.59 185.59 0 0 0 303.43 152.98Z" fill="#5566D6"/>
<path d="M317.44 147.39A189.17 189.17 0 0 1 323.48 146.88L323.73 150.45A185.59 185.59 0 0 0 317.80 150.95Z" fill="#5566D6"/>
<path d="M350.15 146.92A189.17 189.17 0 0 1 365.21 148.62L364.67 152.16A185.59 185.59 0 0 0 349.89 150.49Z" fill="#5566D6"/>
<path d="M368.32 149.13A189.17 189.17 0 0 1 374.36 150.26L373.64 153.76A185.59 185.59 0 0 0 367.72 152.65Z" fill="#5566D6"/>
<path d="M377.46 150.92A189.17 189.17 0 0 1 388.54 153.73L387.55 157.17A185.59 185.59 0 0 0 376.69 154.41Z" fill="#5566D6"/>
<path d="M392.10 154.78A189.17 189.17 0 0 1 405.59 159.50L404.28 162.83A185.59 185.59 0 0 0 391.04 158.21Z" fill="#5566D6"/>
<path d="M298.12 146.45A193.00 193.00 0 0 1 301.16 145.86L301.82 149.38A189.42 189.42 0 0 0 298.83 149.96Z" fill="#1F5F80"/>
<path d="M304.81 145.22A193.00 193.00 0 0 1 307.87 144.73L308.41 148.27A189.42 189.42 0 0 0 305.40 148.75Z" fill="#1F5F80"/>
<path d="M299.74 125.90A212.90 212.90 0 0 1 308.33 124.57L308.80 128.09A209.35 209.35 0 0 0 300.35 129.39Z" fill="#881199"/>
<path d="M312.18 124.09A212.90 212.90 0 0 1 321.43 123.23L321.68 126.77A209.35 209.35 0 0 0 312.59 127.62Z" fill="#881199"/>
<path d="M352.20 123.28A212.90 212.90 0 0 1 368.88 125.18L368.34 128.69A209.35 209.35 0 0 0 351.94 126.82Z" fill="#881199"/>
<path d="M372.39 125.75A212.90 212.90 0 0 1 378.74 126.93L378.03 130.41A209.35 209.35 0 0 0 371.79 129.25Z" fill="#881199"/>
<path d="M382.50 127.73A212.90 212.90 0 0 1 395.19 130.95L394.21 134.36A209.35 209.35 0 0 0 381.74 131.20Z" fill="#881199"/>
<path d="M398.62 131.96A212.90 212.90 0 0 1 414.23 137.40L412.93 140.70A209.35 209.35 0 0 0 397.59 135.36Z" fill="#881199"/>
<path d="M351.92 127.07A209.10 209.10 0 0 1 355.27 127.34L354.95 130.93A205.50 205.50 0 0 0 351.66 130.66Z" fill="#50BE72"/>
<path d="M374.75 130.03A209.10 209.10 0 0 1 378.05 130.67L377.33 134.20A205.50 205.50 0 0 0 374.09 133.57Z" fill="#50BE72"/>
<path d="M301.07 122.32A216.20 216.20 0 0 1 304.50 121.78L304.99 125.04A212.90 212.90 0 0 0 301.61 125.58Z" fill="#5588BB"/>
<path d="M314.75 120.50A216.20 216.20 0 0 1 318.21 120.17L318.49 123.46A212.90 212.90 0 0 0 315.08 123.78Z" fill="#5588BB"/>
<path d="M376.21 123.08A216.20 216.20 0 0 1 379.62 123.74L378.96 126.98A212.90 212.90 0 0 0 375.60 126.32Z" fill="#5588BB"/>
<path d="M299.35 105.99A232.60 232.60 0 0 1 305.39 105.09L306.42 112.72A224.90 224.90 0 0 0 300.58 113.59Z" fill="#B8E6A5"/>
<path d="M298.72 102.11A236.53 236.53 0 0 1 304.87 101.19L305.39 105.09A232.60 232.60 0 0 0 299.35 105.99Z" fill="#EF6570"/>
<path d="M309.20 104.61A232.60 232.60 0 0 1 320.32 103.56L320.85 111.24A224.90 224.90 0 0 0 310.10 112.25Z" fill="#B8E6A5"/>
<path d="M308.74 100.70A236.53 236.53 0 0 1 320.05 99.64L320.32 103.56A232.60 232.60 0 0 0 309.20 104.61Z" fill="#EF6570"/>
<path d="M353.32 103.61A232.60 232.60 0 0 1 368.53 105.22L367.47 112.84A224.90 224.90 0 0 0 352.76 111.29Z" fill="#FFFFFF"/>
<path d="M368.92 105.27A232.60 232.60 0 0 1 372.20 105.76L371.02 113.36A224.90 224.90 0 0 0 367.85 112.90Z" fill="#B8E6A5"/>
<path d="M369.47 101.38A236.53 236.53 0 0 1 372.80 101.87L372.20 105.76A232.60 232.60 0 0 0 368.92 105.27Z" fill="#EF6570"/>
<path d="M375.63 106.31A232.60 232.60 0 0 1 382.80 107.65L381.27 115.20A224.90 224.90 0 0 0 374.33 113.91Z" fill="#B8E6A5"/>
<path d="M376.29 102.44A236.53 236.53 0 0 1 383.58 103.80L382.80 107.65A232.60 232.60 0 0 0 375.63 106.31Z" fill="#EF6570"/>
<path d="M386.47 108.43A232.60 232.60 0 0 1 402.33 112.51L400.15 119.89A224.90 224.90 0 0 0 384.82 115.95Z" fill="#B8E6A5"/>
<path d="M387.32 104.59A236.53 236.53 0 0 1 403.44 108.74L402.33 112.51A232.60 232.60 0 0 0 386.47 108.43Z" fill="#EF6570"/>
<path d="M404.75 113.24A232.60 232.60 0 0 1 423.64 119.94L420.76 127.08A224.90 224.90 0 0 0 402.49 120.60Z" fill="#B8E6A5"/>
<path d="M405.91 109.48A236.53 236.53 0 0 1 425.11 116.30L423.64 119.94A232.60 232.60 0 0 0 404.75 113.24Z" fill="#EF6570"/>
<path d="M421.92 119.25A232.60 232.60 0 0 1 423.64 119.94L420.76 127.08A224.90 224.90 0 0 0 419.09 126.42Z" fill="#B8E6A5"/>
<path d="M423.36 115.60A236.53 236.53 0 0 1 425.11 116.30L423.64 119.94A232.60 232.60 0 0 0 421.92 119.25Z" fill="#EF6570"/>
<path d="M309.25 69.02A267.97 267.97 0 0 1 313.54 68.62L313.88 72.53A264.04 264.04 0 0 0 309.65 72.93Z" fill="#F2FD3E"/>
<path d="M383.46 83.76A256.18 256.18 0 0 1 387.50 84.55L386.71 88.40A252.25 252.25 0 0 0 382.74 87.62Z" fill="#EBBF3B"/>
<path d="M381.51 95.39A244.39 244.39 0 0 1 385.36 96.14L384.58 100.00A240.46 240.46 0 0 0 380.79 99.25Z" fill="#EBBF3B"/>
<path d="M256.73 176.83A177.68 177.68 0 0 1 259.29 175.57L260.85 178.80A174.10 174.10 0 0 0 258.34 180.03Z" fill="#885544"/>
<path d="M261.21 174.66A177.68 177.68 0 0 1 263.81 173.47L265.28 176.74A174.10 174.10 0 0 0 262.73 177.90Z" fill="#885544"/>
<path d="M232.11 191.82A177.68 177.68 0 0 1 234.44 190.16L236.50 193.09A174.10 174.10 0 0 0 234.22 194.71Z" fill="#885544"/>
<path d="M237.10 188.32A177.68 177.68 0 0 1 239.48 186.74L241.44 189.74A174.10 174.10 0 0 0 239.11 191.29Z" fill="#885544"/>
<path d="M318.80 158.80A177.68 177.68 0 0 1 321.64 158.54L321.94 162.11A174.10 174.10 0 0 0 319.16 162.37Z" fill="#885544"/>
<path d="M256.31 168.51A185.34 185.34 0 0 1 260.36 166.62L261.83 169.89A181.76 181.76 0 0 0 257.86 171.73Z" fill="#2E8B22"/>
<path d="M267.45 163.60A185.34 185.34 0 0 1 271.62 161.99L272.87 165.34A181.76 181.76 0 0 0 268.78 166.93Z" fill="#2E8B22"/>
<path d="M250.75 171.29A185.34 185.34 0 0 1 252.61 170.33L254.23 173.53A181.76 181.76 0 0 0 252.41 174.46Z" fill="#2E8B22"/>
<path d="M314.70 151.55A185.34 185.34 0 0 1 317.66 151.22L318.02 154.78A181.76 181.76 0 0 0 315.12 155.10Z" fill="#2E8B22"/>
<path d="M213.74 191.67A189.17 189.17 0 0 1 216.07 189.72L218.35 192.48A185.59 185.59 0 0 0 216.06 194.40Z" fill="#5566D6"/>
<path d="M218.73 187.56A189.17 189.17 0 0 1 221.12 185.69L223.31 188.53A185.59 185.59 0 0 0 220.96 190.36Z" fill="#5566D6"/>
<path d="M225.25 182.60A189.17 189.17 0 0 1 227.72 180.83L229.78 183.76A185.59 185.59 0 0 0 227.35 185.50Z" fill="#5566D6"/>
<path d="M230.05 179.22A189.17 189.17 0 0 1 232.58 177.53L234.54 180.52A185.59 185.59 0 0 0 232.07 182.18Z" fill="#5566D6"/>
<path d="M246.31 169.31A189.17 189.17 0 0 1 249.00 167.88L250.65 171.06A185.59 185.59 0 0 0 248.02 172.46Z" fill="#5566D6"/>
<path d="M235.70 175.52A189.17 189.17 0 0 1 242.96 171.17L244.73 174.29A185.59 185.59 0 0 0 237.61 178.55Z" fill="#5566D6"/>
<path d="M254.47 165.14A189.17 189.17 0 0 1 261.17 162.08L262.59 165.36A185.59 185.59 0 0 0 256.03 168.36Z" fill="#5566D6"/>
<path d="M265.67 160.19A189.17 189.17 0 0 1 270.39 158.36L271.64 161.71A185.59 185.59 0 0 0 267.01 163.51Z" fill="#5566D6"/>
<path d="M273.87 157.10A189.17 189.17 0 0 1 281.77 154.52L282.81 157.95A185.59 185.59 0 0 0 275.06 160.48Z" fill="#5566D6"/>
<path d="M285.18 153.52A189.17 189.17 0 0 1 298.64 150.26L299.36 153.76A185.59 185.59 0 0 0 286.15 156.97Z" fill="#5566D6"/>
<path d="M302.72 149.47A189.17 189.17 0 0 1 311.82 148.05L312.29 151.60A185.59 185.59 0 0 0 303.36 152.99Z" fill="#5566D6"/>
<path d="M316.84 147.45A189.17 189.17 0 0 1 322.88 146.92L323.14 150.49A185.59 185.59 0 0 0 317.21 151.02Z" fill="#5566D6"/>
<path d="M298.58 146.36A193.00 193.00 0 0 1 301.63 145.78L302.28 149.30A189.42 189.42 0 0 0 299.29 149.87Z" fill="#1F5F80"/>
<path d="M304.55 145.26A193.00 193.00 0 0 1 307.62 144.77L308.15 148.31A189.42 189.42 0 0 0 305.14 148.79Z" fill="#1F5F80"/>
<path d="M184.51 186.52A212.90 212.90 0 0 1 188.55 182.50L191.02 185.06A209.35 209.35 0 0 0 187.04 189.00Z" fill="#881199"/>
<path d="M190.62 180.53A212.90 212.90 0 0 1 199.81 172.38L202.08 175.10A209.35 209.35 0 0 0 193.05 183.12Z" fill="#881199"/>
<path d="M223.48 155.17A212.90 212.90 0 0 1 231.95 150.14L233.69 153.23A209.35 209.35 0 0 0 225.37 158.18Z" fill="#881199"/>
<path d="M235.55 148.16A212.90 212.90 0 0 1 252.18 140.11L253.59 143.37A209.35 209.35 0 0 0 237.23 151.28Z" fill="#881199"/>
<path d="M256.34 138.37A212.90 212.90 0 0 1 261.92 136.19L263.17 139.51A209.35 209.35 0 0 0 257.67 141.66Z" fill="#881199"/>
<path d="M265.76 134.79A212.90 212.90 0 0 1 274.75 131.85L275.78 135.25A209.35 209.35 0 0 0 266.94 138.14Z" fill="#881199"/>
<path d="M278.53 130.74A212.90 212.90 0 0 1 294.26 126.93L294.97 130.41A209.35 209.35 0 0 0 279.50 134.16Z" fill="#881199"/>
<path d="M298.37 126.14A212.90 212.90 0 0 1 307.82 124.64L308.29 128.16A209.35 209.35 0 0 0 299.01 129.63Z" fill="#881199"/>
<path d="M311.78 124.14A212.90 212.90 0 0 1 322.88 123.14L323.11 126.68A209.35 209.35 0 0 0 312.19 127.67Z" fill="#881199"/>
<path d="M203.58 169.29A212.90 212.90 0 0 1 206.27 167.18L208.44 169.98A209.35 209.35 0 0 0 205.80 172.06Z" fill="#881199"/>
<path d="M211.41 163.32A212.90 212.90 0 0 1 214.20 161.33L216.24 164.24A209.35 209.35 0 0 0 213.50 166.19Z" fill="#881199"/>
<path d="M217.15 159.30A212.90 212.90 0 0 1 220.00 157.41L221.94 160.38A209.35 209.35 0 0 0 219.14 162.24Z" fill="#881199"/>
<path d="M193.44 183.10A209.10 209.10 0 0 1 195.91 180.82L198.33 183.49A205.50 205.50 0 0 0 195.90 185.73Z" fill="#50BE72"/>
<path d="M198.22 178.75A209.10 209.10 0 0 1 200.75 176.55L203.09 179.29A205.50 205.50 0 0 0 200.60 181.46Z" fill="#50BE72"/>
<path d="M196.26 171.05A216.20 216.20 0 0 1 201.62 166.63L203.68 169.21A212.90 212.90 0 0 0 198.40 173.57Z" fill="#5588BB"/>
<path d="M209.59 160.57A216.20 216.20 0 0 1 212.42 158.55L214.31 161.26A212.90 212.90 0 0 0 211.52 163.24Z" fill="#5588BB"/>
<path d="M232.93 145.82A216.20 216.20 0 0 1 236.00 144.18L237.53 147.10A212.90 212.90 0 0 0 234.51 148.72Z" fill="#5588BB"/>
<path d="M294.04 123.61A216.20 216.20 0 0 1 297.45 122.96L298.05 126.20A212.90 212.90 0 0 0 294.69 126.85Z" fill="#5588BB"/>
<path d="M301.04 122.33A216.20 216.20 0 0 1 304.47 121.79L304.96 125.05A212.90 212.90 0 0 0 301.58 125.58Z" fill="#5588BB"/>
<path d="M314.15 120.56A216.20 216.20 0 0 1 317.61 120.23L317.90 123.51A212.90 212.90 0 0 0 314.50 123.84Z" fill="#5588BB"/>
<path d="M215.24 137.11A232.60 232.60 0 0 1 221.83 133.23L225.63 139.93A224.90 224.90 0 0 0 219.25 143.68Z" fill="#B8E6A5"/>
<path d="M213.19 133.76A236.53 236.53 0 0 1 219.89 129.81L221.83 133.23A232.60 232.60 0 0 0 215.24 137.11Z" fill="#EF6570"/>
<path d="M225.01 131.46A232.60 232.60 0 0 1 231.67 127.96L235.14 134.84A224.90 224.90 0 0 0 228.70 138.22Z" fill="#B8E6A5"/>
<path d="M223.13 128.01A236.53 236.53 0 0 1 229.90 124.45L231.67 127.96A232.60 232.60 0 0 0 225.01 131.46Z" fill="#EF6570"/>
<path d="M233.53 127.03A232.60 232.60 0 0 1 243.81 122.27L246.88 129.33A224.90 224.90 0 0 0 236.94 133.94Z" fill="#B8E6A5"/>
<path d="M231.79 123.51A236.53 236.53 0 0 1 242.25 118.66L243.81 122.27A232.60 232.60 0 0 0 233.53 127.03Z" fill="#EF6570"/>
<path d="M247.96 120.51A232.60 232.60 0 0 1 255.34 117.62L258.03 124.83A224.90 224.90 0 0 0 250.89 127.63Z" fill="#FFFFFF"/>
<path d="M258.18 116.58A232.60 232.60 0 0 1 270.39 112.59L272.58 119.98A224.90 224.90 0 0 0 260.77 123.83Z" fill="#B8E6A5"/>
<path d="M256.85 112.88A236.53 236.53 0 0 1 269.27 108.82L270.39 112.59A232.60 232.60 0 0 0 258.18 116.58Z" fill="#EF6570"/>
<path d="M273.10 111.81A232.60 232.60 0 0 1 305.69 105.05L306.71 112.68A224.90 224.90 0 0 0 275.19 119.22Z" fill="#B8E6A5"/>
<path d="M272.02 108.03A236.53 236.53 0 0 1 289.62 103.76L290.40 107.61A232.60 232.60 0 0 0 273.10 111.81Z" fill="#EF6570"/>
<path d="M293.42 103.03A236.53 236.53 0 0 1 305.17 101.15L305.69 105.05A232.60 232.60 0 0 0 294.14 106.89Z" fill="#EF6570"/>
<path d="M309.16 104.61A232.60 232.60 0 0 1 322.91 103.40L323.36 111.08A224.90 224.90 0 0 0 310.07 112.26Z" fill="#B8E6A5"/>
<path d="M308.70 100.71A236.53 236.53 0 0 1 322.68 99.47L322.91 103.40A232.60 232.60 0 0 0 309.16 104.61Z" fill="#EF6570"/>
<path d="M206.60 142.65A232.60 232.60 0 0 1 209.72 140.59L213.92 147.04A224.90 224.90 0 0 0 210.90 149.04Z" fill="#FFFFFF"/>
<path d="M211.73 139.29A232.60 232.60 0 0 1 214.90 137.32L218.93 143.88A224.90 224.90 0 0 0 215.86 145.79Z" fill="#FFFFFF"/>
<path d="M199.91 147.33A232.60 232.60 0 0 1 202.95 145.16L207.38 151.46A224.90 224.90 0 0 0 204.43 153.56Z" fill="#B8E6A5"/>
<path d="M190.47 154.55A232.60 232.60 0 0 1 193.40 152.23L198.13 158.30A224.90 224.90 0 0 0 195.30 160.55Z" fill="#B8E6A5"/>
<path d="M188.00 151.50A236.53 236.53 0 0 1 190.98 149.13L193.40 152.23A232.60 232.60 0 0 0 190.47 154.55Z" fill="#EF6570"/>
<path d="M182.57 161.22A232.60 232.60 0 0 1 185.40 158.76L190.40 164.62A224.90 224.90 0 0 0 187.67 166.99Z" fill="#B8E6A5"/>
<path d="M179.97 158.27A236.53 236.53 0 0 1 182.84 155.78L185.40 158.76A232.60 232.60 0 0 0 182.57 161.22Z" fill="#EF6570"/>
<path d="M186.06 128.24A256.18 256.18 0 0 1 189.42 125.85L191.67 129.07A252.25 252.25 0 0 0 188.37 131.42Z" fill="#EBBF3B"/>
<path d="M190.68 134.60A248.32 248.32 0 0 1 193.93 132.29L198.44 138.72A240.46 240.46 0 0 0 195.30 140.97Z" fill="#EBBF3B"/>
<path d="M245.96 79.22A271.90 271.90 0 0 1 258.37 75.17L259.50 78.93A267.97 267.97 0 0 0 247.27 82.92Z" fill="#F2FD3E"/>
<path d="M250.99 94.11A256.18 256.18 0 0 1 262.88 90.23L264.01 93.99A252.25 252.25 0 0 0 252.30 97.82Z" fill="#EBBF3B"/>
<path d="M254.92 105.23A244.39 244.39 0 0 1 265.86 101.64L267.00 105.40A240.46 240.46 0 0 0 256.23 108.93Z" fill="#EBBF3B"/>
<path d="M282.40 65.13A275.83 275.83 0 0 1 286.76 64.29L287.47 68.16A271.90 271.90 0 0 0 283.17 68.98Z" fill="#F2FD3E"/>
<path d="M291.16 63.52A275.83 275.83 0 0 1 295.54 62.83L296.12 66.71A271.90 271.90 0 0 0 291.81 67.40Z" fill="#F2FD3E"/>
<path d="M176.64 241.81A185.34 185.34 0 0 1 189.46 222.77L192.30 224.95A181.76 181.76 0 0 0 179.73 243.62Z" fill="#2E8B22"/>
<path d="M191.67 219.95A185.34 185.34 0 0 1 193.55 217.63L196.31 219.91A181.76 181.76 0 0 0 194.47 222.18Z" fill="#2E8B22"/>
<path d="M196.20 214.50A185.34 185.34 0 0 1 207.06 202.95L209.56 205.52A181.76 181.76 0 0 0 198.91 216.83Z" fill="#2E8B22"/>
<path d="M201.79 202.79A189.17 189.17 0 0 1 205.85 198.79L208.32 201.38A185.59 185.59 0 0 0 204.34 205.30Z" fill="#5566D6"/>
<path d="M207.39 197.34A189.17 189.17 0 0 1 215.50 190.19L217.79 192.94A185.59 185.59 0 0 0 209.83 199.96Z" fill="#5566D6"/>
<path d="M218.11 188.06A189.17 189.17 0 0 1 220.50 186.17L222.69 189.00A185.59 185.59 0 0 0 220.35 190.85Z" fill="#5566D6"/>
<path d="M225.25 182.60A189.17 189.17 0 0 1 227.72 180.83L229.78 183.76A185.59 185.59 0 0 0 227.35 185.50Z" fill="#5566D6"/>
<path d="M230.24 179.10A189.17 189.17 0 0 1 232.77 177.41L234.73 180.40A185.59 185.59 0 0 0 232.25 182.06Z" fill="#5566D6"/>
<path d="M232.11 191.82A177.68 177.68 0 0 1 234.44 190.16L236.50 193.09A174.10 174.10 0 0 0 234.22 194.71Z" fill="#885544"/>
<path d="M152.87 227.87A212.90 212.90 0 0 1 167.14 206.59L169.97 208.74A209.35 209.35 0 0 0 155.93 229.66Z" fill="#881199"/>
<path d="M170.13 202.76A212.90 212.90 0 0 1 172.28 200.10L175.02 202.36A209.35 209.35 0 0 0 172.90 204.97Z" fill="#881199"/>
<path d="M174.70 197.23A212.90 212.90 0 0 1 188.04 183.00L190.52 185.55A209.35 209.35 0 0 0 177.40 199.54Z" fill="#881199"/>
<path d="M191.12 180.06A212.90 212.90 0 0 1 200.30 171.96L202.58 174.69A209.35 209.35 0 0 0 193.55 182.66Z" fill="#881199"/>
<path d="M203.58 169.29A212.90 212.90 0 0 1 206.27 167.18L208.44 169.98A209.35 209.35 0 0 0 205.80 172.06Z" fill="#881199"/>
<path d="M211.70 163.12A212.90 212.90 0 0 1 214.49 161.13L216.52 164.04A209.35 209.35 0 0 0 213.78 165.99Z" fill="#881199"/>
<path d="M216.96 159.43A212.90 212.90 0 0 1 219.81 157.53L221.75 160.50A209.35 209.35 0 0 0 218.95 162.36Z" fill="#881199"/>
<path d="M223.03 155.46A212.90 212.90 0 0 1 230.75 150.82L232.52 153.90A209.35 209.35 0 0 0 224.92 158.46Z" fill="#881199"/>
<path d="M193.34 183.19A209.10 209.10 0 0 1 195.81 180.91L198.23 183.58A205.50 205.50 0 0 0 195.80 185.82Z" fill="#50BE72"/>
<path d="M198.22 178.75A209.10 209.10 0 0 1 200.75 176.55L203.09 179.29A205.50 205.50 0 0 0 200.60 181.46Z" fill="#50BE72"/>
<path d="M196.16 171.14A216.20 216.20 0 0 1 201.52 166.71L203.58 169.29A212.90 212.90 0 0 0 198.31 173.65Z" fill="#5588BB"/>
<path d="M209.85 160.38A216.20 216.20 0 0 1 212.69 158.36L214.57 161.07A212.90 212.90 0 0 0 211.79 163.05Z" fill="#5588BB"/>
<path d="M232.93 145.82A216.20 216.20 0 0 1 236.00 144.18L237.53 147.10A212.90 212.90 0 0 0 234.51 148.72Z" fill="#5588BB"/>
<path d="M135.88 217.90A232.60 232.60 0 0 1 152.21 193.68L158.31 198.38A224.90 224.90 0 0 0 142.52 221.79Z" fill="#B8E6A5"/>
<path d="M132.49 215.91A236.53 236.53 0 0 1 149.10 191.28L152.21 193.68A232.60 232.60 0 0 0 135.88 217.90Z" fill="#EF6570"/>
<path d="M154.82 190.36A232.60 232.60 0 0 1 157.18 187.46L163.11 192.36A224.90 224.90 0 0 0 160.83 195.17Z" fill="#B8E6A5"/>
<path d="M151.75 187.91A236.53 236.53 0 0 1 154.15 184.96L157.18 187.46A232.60 232.60 0 0 0 154.82 190.36Z" fill="#EF6570"/>
<path d="M159.41 184.80A232.60 232.60 0 0 1 174.98 168.23L180.32 173.77A224.90 224.90 0 0 0 165.27 189.79Z" fill="#B8E6A5"/>
<path d="M156.42 182.25A236.53 236.53 0 0 1 170.87 166.74L173.62 169.55A232.60 232.60 0 0 0 159.41 184.80Z" fill="#EF6570"/>
<path d="M176.01 167.24A232.60 232.60 0 0 1 179.60 163.88L184.80 169.57A224.90 224.90 0 0 0 181.32 172.81Z" fill="#FFFFFF"/>
<path d="M169.46 126.06A267.97 267.97 0 0 1 172.85 123.40L175.25 126.52A264.04 264.04 0 0 0 171.91 129.13Z" fill="#F2FD3E"/>
<path d="M141.63 145.98A271.90 271.90 0 0 1 146.88 140.73L149.62 143.55A267.97 267.97 0 0 0 144.45 148.72Z" fill="#F2FD3E"/>
<path d="M152.90 156.94A256.18 256.18 0 0 1 157.84 152.00L160.59 154.81A252.25 252.25 0 0 0 155.71 159.69Z" fill="#EBBF3B"/>
<path d="M161.20 165.32A244.39 244.39 0 0 1 165.91 160.59L168.66 163.41A240.46 240.46 0 0 0 164.02 168.06Z" fill="#EBBF3B"/>
<path d="M303.69 10.33A326.92 326.92 0 0 1 308.92 9.85L309.25 13.76A322.99 322.99 0 0 0 304.08 14.24Z" fill="#CC6622"/>
<path d="M304.72 26.03A311.20 311.20 0 0 1 309.70 25.56L310.04 29.47A307.27 307.27 0 0 0 305.13 29.94Z" fill="#99E055"/>
<path d="M147.21 98.57A303.34 303.34 0 0 1 151.04 95.56L153.45 98.67A299.41 299.41 0 0 0 149.66 101.64Z" fill="#CC2288"/>
<path d="M174.53 112.34A275.83 275.83 0 0 1 178.13 109.76L180.39 112.98A271.90 271.90 0 0 0 176.83 115.52Z" fill="#F2FD3E"/>
<path d="M613.56 162.07A326.92 326.92 0 0 1 616.31 166.54L612.95 168.57A322.99 322.99 0 0 0 610.23 164.15Z" fill="#CC6622"/>
<path d="M625.21 182.22A326.92 326.92 0 0 1 631.08 193.83L627.54 195.53A322.99 322.99 0 0 0 621.74 184.06Z" fill="#CC6622"/>
<path d="M637.74 208.60A326.92 326.92 0 0 1 639.74 213.45L636.10 214.92A322.99 322.99 0 0 0 634.12 210.12Z" fill="#CC6622"/>
<path d="M645.23 228.08A326.92 326.92 0 0 1 646.92 233.06L643.19 234.29A322.99 322.99 0 0 0 641.52 229.38Z" fill="#CC6622"/>
<path d="M649.86 242.42A326.92 326.92 0 0 1 651.32 247.47L647.53 248.53A322.99 322.99 0 0 0 646.09 243.54Z" fill="#CC6622"/>
<path d="M652.70 252.58A326.92 326.92 0 0 1 654.00 257.68L650.18 258.61A322.99 322.99 0 0 0 648.90 253.58Z" fill="#CC6622"/>
<path d="M642.48 245.19A319.06 319.06 0 0 1 643.90 250.12L636.32 252.23A311.20 311.20 0 0 0 634.95 247.42Z" fill="#B4C4EA"/>
<path d="M637.57 256.84A311.20 311.20 0 0 1 638.80 261.69L634.98 262.62A307.27 307.27 0 0 0 633.77 257.83Z" fill="#99E055"/>
<path d="M667.83 287.64A334.78 334.78 0 0 1 668.95 296.17L665.05 296.64A330.85 330.85 0 0 0 663.94 288.20Z" fill="#808080"/>
<path d="M670.88 319.19A334.78 334.78 0 0 1 671.10 324.56L667.17 324.69A330.85 330.85 0 0 0 666.95 319.38Z" fill="#808080"/>
<path d="M397.74 6.47A334.78 334.78 0 0 1 403.02 7.49L402.24 11.35A330.85 330.85 0 0 0 397.02 10.33Z" fill="#808080"/>
<path d="M621.13 294.23A287.62 287.62 0 0 1 622.31 303.39L618.41 303.83A283.69 283.69 0 0 0 617.24 294.79Z" fill="#44C060"/>
<path d="M654.18 365.23A319.06 319.06 0 0 1 653.06 375.43L645.27 374.45A311.20 311.20 0 0 0 646.35 364.50Z" fill="#B4C4EA"/>
<path d="M651.60 385.73A319.06 319.06 0 0 1 650.75 390.79L643.01 389.43A311.20 311.20 0 0 0 643.83 384.49Z" fill="#B4C4EA"/>
<path d="M649.87 395.60A319.06 319.06 0 0 1 648.86 400.63L641.17 399.03A311.20 311.20 0 0 0 642.15 394.12Z" fill="#B4C4EA"/>
<path d="M636.32 402.84A307.27 307.27 0 0 1 635.20 407.65L631.38 406.72A303.34 303.34 0 0 0 632.49 401.98Z" fill="#EEC8AA"/>
<path d="M647.77 405.69A319.06 319.06 0 0 1 646.60 410.68L638.96 408.83A311.20 311.20 0 0 0 640.10 403.96Z" fill="#B4C4EA"/>
<path d="M635.07 423.36A311.20 311.20 0 0 1 632.10 432.91L628.36 431.68A307.27 307.27 0 0 0 631.30 422.25Z" fill="#99E055"/>
<path d="M642.69 425.31A319.06 319.06 0 0 1 639.65 435.10L632.18 432.65A311.20 311.20 0 0 0 635.15 423.10Z" fill="#B4C4EA"/>
<path d="M628.99 463.07A319.06 319.06 0 0 1 626.48 468.68L619.34 465.41A311.20 311.20 0 0 0 621.79 459.93Z" fill="#B4C4EA"/>
<path d="M617.61 486.52A319.06 319.06 0 0 1 612.62 495.47L605.81 491.53A311.20 311.20 0 0 0 610.69 482.80Z" fill="#B4C4EA"/>
<path d="M608.33 510.04A322.99 322.99 0 0 1 605.49 514.39L602.22 512.21A319.06 319.06 0 0 0 605.02 507.92Z" fill="#B4C4EA"/>
<path d="M584.72 542.26A322.99 322.99 0 0 1 577.95 550.13L575.02 547.52A319.06 319.06 0 0 0 581.70 539.74Z" fill="#B4C4EA"/>
<path d="M572.88 555.71A322.99 322.99 0 0 1 567.50 561.34L564.69 558.60A319.06 319.06 0 0 0 570.00 553.03Z" fill="#B4C4EA"/>
<path d="M562.85 566.01A322.99 322.99 0 0 1 559.12 569.62L556.41 566.77A319.06 319.06 0 0 0 560.09 563.21Z" fill="#B4C4EA"/>
<path d="M482.89 610.22A311.20 311.20 0 0 1 478.46 612.54L476.66 609.04A307.27 307.27 0 0 0 481.04 606.75Z" fill="#99E055"/>
<path d="M490.28 624.09A326.92 326.92 0 0 1 485.63 626.53L483.84 623.03A322.99 322.99 0 0 0 488.44 620.62Z" fill="#CC6622"/>
<path d="M351.67 662.17A326.92 326.92 0 0 1 346.42 662.37L346.31 658.44A322.99 322.99 0 0 0 351.49 658.24Z" fill="#CC6622"/>
<path d="M81.36 540.00A326.92 326.92 0 0 1 75.75 532.80L78.89 530.43A322.99 322.99 0 0 0 84.43 537.55Z" fill="#CC6622"/>
<path d="M80.81 532.94A322.99 322.99 0 0 1 77.67 528.81L80.82 526.46A319.06 319.06 0 0 0 83.92 530.54Z" fill="#B4C4EA"/>
<path d="M94.93 555.88A326.92 326.92 0 0 1 91.42 551.97L94.37 549.36A322.99 322.99 0 0 0 97.84 553.23Z" fill="#CC6622"/>
<path d="M121.98 566.44A315.13 315.13 0 0 1 117.20 561.91L119.94 559.09A311.20 311.20 0 0 0 124.65 563.56Z" fill="#B4C4EA"/>
<path d="M153.49 596.96A319.06 319.06 0 0 1 122.59 572.33L127.86 566.50A311.20 311.20 0 0 0 158.00 590.52Z" fill="#B4C4EA"/>
<path d="M179.77 604.45A311.20 311.20 0 0 1 175.47 601.90L177.51 598.54A307.27 307.27 0 0 0 181.75 601.06Z" fill="#99E055"/>
<path d="M178.41 608.21A315.13 315.13 0 0 1 171.89 604.32L173.94 600.97A311.20 311.20 0 0 0 180.39 604.81Z" fill="#B4C4EA"/>
<path d="M170.92 617.49A326.92 326.92 0 0 1 162.53 612.39L164.62 609.06A322.99 322.99 0 0 0 172.91 614.10Z" fill="#CC6622"/>
<path d="M180.81 623.07A326.92 326.92 0 0 1 176.21 620.53L178.14 617.10A322.99 322.99 0 0 0 182.68 619.61Z" fill="#CC6622"/>
<path d="M474.07 223.16A177.68 177.68 0 0 1 475.86 225.38L473.05 227.60A174.10 174.10 0 0 0 471.30 225.42Z" fill="#885544"/>
<path d="M174.06 275.51L20.15 218.58L45.57 164.91L187.11 247.95Z" fill="#fff"/>
<path d="M336.5 335.6L310.0 314.0M307.0 318.3A34.2 34.2 0 0 1 311.2 312.6M307.0 318.3L278.7 301.8M311.2 312.6L287.3 290.8M280.8 299.3A66.5 66.5 0 0 1 295.9 282.9M280.8 299.3L240.5 273.0M295.9 282.9L263.6 240.9M266.8 238.6L257.0 224.9M238.8 275.7A114.6 114.6 0 0 1 243.8 268.2M238.8 275.7L236.3 274.2M235.8 275.1A117.5 117.5 0 0 1 237.4 272.5M243.8 268.2L240.6 265.9M238.8 268.5A118.5 118.5 0 0 1 245.1 260.2M245.1 260.2L242.7 258.3M240.1 261.6A121.5 121.5 0 0 1 246.2 254.3M246.2 254.3L244.4 252.6M242.2 255.1A124.0 124.0 0 0 1 246.6 250.2M263.6 240.9A119.5 119.5 0 0 1 373.4 221.9M345.0 216.4L345.2 214.3M273.9 231.4A121.6 121.6 0 0 1 397.3 230.3M367.5 218.0L368.0 215.9M294.2 219.3A123.8 123.8 0 0 1 425.6 249.6M397.5 227.8L398.8 225.5M318.9 210.3A126.5 126.5 0 0 1 446.1 272.3M422.8 243.1L425.2 240.5M359.1 207.6A130.0 130.0 0 0 1 463.7 308.6M450.2 272.6L452.8 271.1M394.8 216.1A133.0 133.0 0 0 1 468.2 354.1M467.5 312.5L469.6 312.1M410.1 222.2A135.2 135.2 0 0 1 469.2 309.8A135.2 135.2 0 0 1 447.2 413.1M468.7 363.7L471.5 364.3M473.2 316.4A138.0 138.0 0 0 1 425.2 441.3M448.8 415.7L451.0 417.3M460.7 401.7A140.7 140.7 0 0 1 360.9 474.2M391.5 465.1L392.4 467.2M437.6 436.7A143.0 143.0 0 0 1 306.8 475.5M342.1 478.5L342.2 481.0M386.3 472.3A145.5 145.5 0 0 1 263.8 461.6M292.7 474.4L292.0 476.8M323.6 483.0A148.0 148.0 0 0 1 228.3 436.5M248.5 454.6L247.0 456.6M272.9 472.0A150.5 150.5 0 0 1 203.6 406.3M242.7 455.7A152.4 152.4 0 0 1 186.4 362.1M473.9 280.1A148.2 148.2 0 0 1 484.3 345.9M479.0 348.1A143.0 143.0 0 0 1 460.3 407.1M480.7 358.4A146.0 146.0 0 0 1 467.7 399.6M237.3 276.3L234.9 274.9M236.6 277.5A115.6 115.6 0 0 1 239.7 272.4M239.3 276.2L237.9 275.3M237.7 278.9A113.9 113.9 0 0 1 243.8 269.4M237.7 274.4L235.5 273.0M237.9 272.3L236.1 271.1M238.7 270.5L236.6 269.2M240.0 269.2L236.6 266.9M239.1 270.5A117.2 117.2 0 0 1 243.2 264.8M240.6 267.3L237.6 265.2M240.2 264.7L237.1 262.4M241.0 262.9L238.7 261.1M241.0 260.4L240.0 259.6M240.0 261.8A121.5 121.5 0 0 1 244.7 255.9M243.2 259.6L240.7 257.6M245.3 259.8L244.0 258.6M243.2 262.4A118.6 118.6 0 0 1 249.3 255.2M243.0 256.9L241.4 255.6M244.3 255.5L241.6 253.2M245.6 254.0L242.7 251.4M245.1 254.5A122.2 122.2 0 0 1 247.2 252.2M247.1 252.7L244.1 250.0M246.9 249.8L244.8 247.8M247.9 248.0L243.5 243.7M248.8 246.0L245.2 242.4M247.6 247.2A125.4 125.4 0 0 1 252.9 242.2M249.5 243.9L246.6 240.8M250.9 242.4L247.6 238.8M254.4 244.3L251.9 241.6M251.9 246.6A122.8 122.8 0 0 1 262.7 237.4M252.7 241.3L248.4 236.6M254.2 240.0L250.7 235.9M253.0 241.1A126.1 126.1 0 0 1 258.5 236.5M255.5 238.4L252.1 234.3M257.1 237.1L253.4 232.6M257.4 234.2L255.1 231.3M258.7 232.5L257.1 230.4M257.4 233.5A129.2 129.2 0 0 1 263.1 229.3M260.7 231.7L258.4 228.6M262.4 230.6L259.8 226.9M263.4 228.3L262.0 226.3M266.2 230.2L264.5 227.5M263.3 232.2A126.7 126.7 0 0 1 269.4 228.1M265.4 227.6L263.6 224.8M263.7 228.7A129.4 129.4 0 0 1 271.1 224.0M266.9 226.1L265.7 224.3M269.2 225.9L267.2 222.5M271.5 225.6L269.2 221.8M273.1 224.3L271.4 221.4M272.4 224.7A128.1 128.1 0 0 1 275.3 223.1M274.2 222.0L273.3 220.4M276.6 222.2L274.9 219.0M277.8 220.0L277.1 218.6M280.2 220.1L278.6 216.9M278.5 220.9A128.5 128.5 0 0 1 285.8 217.5M282.9 222.7L281.4 219.5M279.8 224.2A125.0 125.0 0 0 1 294.4 217.9M282.3 219.7L280.7 216.3M284.1 218.7L282.3 214.7M285.4 216.6L284.8 215.2M288.1 217.7L286.7 214.3M287.2 218.1A127.4 127.4 0 0 1 291.2 216.5M289.8 216.3L288.5 212.9M291.9 216.2L290.9 213.3M293.7 215.2L292.6 211.9M295.6 214.2L294.2 210.2M294.1 214.7A128.1 128.1 0 0 1 300.7 212.6M297.6 213.7L296.4 210.1M299.8 216.3L298.9 213.3M296.5 217.4A124.8 124.8 0 0 1 303.3 215.3M299.3 212.1L298.4 209.2M301.2 211.5L300.4 208.5M303.5 212.1L302.6 208.7M302.8 212.3A127.9 127.9 0 0 1 306.1 211.4M305.3 210.8L304.8 208.7M307.6 211.6L306.8 207.9M309.5 210.7L308.7 207.0M311.6 210.3L310.9 207.1M310.7 210.5A127.7 127.7 0 0 1 314.4 209.8M313.5 209.6L312.8 205.8M315.5 209.1L314.7 204.3M317.3 211.9L316.8 208.9M313.9 212.5A125.2 125.2 0 0 1 322.0 211.3M317.4 207.9L317.0 204.8M319.4 207.0L319.1 204.7M317.6 207.2A129.7 129.7 0 0 1 325.5 206.3M321.2 204.8L321.1 203.5M323.4 205.4L323.3 203.7M325.6 205.8L325.3 202.7M327.6 204.8L327.4 201.3M326.7 204.9A131.1 131.1 0 0 1 330.6 204.6M329.7 204.9L329.5 200.6M331.8 203.1L331.7 201.7M333.9 202.6L333.9 201.5M335.3 205.4L335.3 202.5M331.7 205.5A130.2 130.2 0 0 1 349.6 206.0M336.0 201.3L336.0 199.8M334.9 201.3A134.3 134.3 0 0 1 339.6 201.4M338.2 202.2L338.2 200.5M340.3 200.8L340.4 199.4M342.5 200.5L342.6 199.5M344.6 201.7L344.8 198.2M342.5 201.6A134.2 134.2 0 0 1 351.6 202.3M346.9 200.0L347.1 198.0M349.1 200.0L349.3 197.9M351.2 201.4L351.5 198.1M353.4 201.1L353.7 199.0M352.6 201.0A135.5 135.5 0 0 1 355.9 201.5M354.5 203.5L354.8 201.3M350.8 203.1A133.3 133.3 0 0 1 360.7 204.5M355.7 200.4L356.2 197.1M357.8 201.2L358.4 197.1M360.2 200.1L360.7 197.0M362.1 202.0L362.7 198.5M361.1 201.8A136.0 136.0 0 0 1 365.5 202.7M364.1 202.8L365.0 198.7M366.5 202.2L367.6 197.5M368.8 202.2L369.7 198.5M370.8 203.3L372.1 198.2M370.0 203.1A136.7 136.7 0 0 1 373.5 204.0M372.9 203.9L374.4 198.3M373.3 207.6L374.3 204.3M369.7 206.6A133.2 133.2 0 0 1 384.7 211.4M374.8 205.0L376.3 200.1M377.1 205.0L378.6 200.3M379.2 205.7L381.2 199.6M378.0 205.3A136.7 136.7 0 0 1 383.3 207.1M380.9 207.5L383.5 200.2M383.2 207.6L385.1 202.3M384.7 209.8L387.3 203.0M387.4 208.9L390.0 202.5M386.6 208.5A136.6 136.6 0 0 1 390.3 210.1M389.3 210.0L392.3 203.0M391.2 211.3L393.9 205.0M391.3 214.5L392.5 211.9M387.9 213.0A132.9 132.9 0 0 1 395.6 216.5M392.5 213.7L396.5 204.8M395.1 213.1L398.2 206.6M393.3 212.3A135.8 135.8 0 0 1 401.2 216.2M396.8 214.6L400.6 207.0M399.3 214.6L402.0 209.2M400.5 216.8L404.1 210.2M402.5 217.8L406.4 210.8M401.6 217.3A135.0 135.0 0 0 1 405.6 219.6M402.2 222.6L403.5 220.4M404.8 222.3L405.7 220.9M406.2 224.1L408.0 221.3M408.8 224.1L409.8 222.5M407.1 223.0A132.9 132.9 0 0 1 414.2 227.8M410.2 225.8L411.9 223.3M412.1 226.7L413.3 225.1M413.9 227.9L415.4 225.8M415.2 229.7L418.1 225.9M414.4 229.2A131.9 131.9 0 0 1 417.6 231.6M417.8 229.8L419.9 227.1M419.8 230.8L421.3 228.8M421.6 231.9L423.5 229.6M423.9 232.6L424.8 231.5M422.7 231.6A135.1 135.1 0 0 1 427.6 235.9M424.9 234.8L426.9 232.4M427.6 235.0L429.1 233.3M429.0 236.6L431.3 234.2M431.4 237.3L432.7 236.0M430.3 236.2A136.7 136.7 0 0 1 435.2 241.0M432.5 239.3L434.6 237.2M434.6 240.3L436.3 238.7M436.0 242.0L438.1 240.1M438.5 242.7L440.1 241.2M437.2 241.2A138.0 138.0 0 0 1 442.9 247.7M440.2 244.1L441.2 243.3M441.2 246.2L444.0 243.9M443.4 247.3L444.4 246.4M443.6 249.9L446.5 247.6M443.1 249.3A137.2 137.2 0 0 1 445.3 252.1M445.5 251.3L447.6 249.7M447.9 252.2L450.4 250.4M450.0 253.5L450.9 252.8M451.2 255.4L453.3 253.9M450.6 254.6A139.9 139.9 0 0 1 452.9 258.0M453.1 256.9L455.4 255.3M453.2 259.5L456.9 257.1M455.0 261.0L457.6 259.3M457.7 261.9L459.7 260.8M457.2 261.1A141.9 141.9 0 0 1 459.4 264.8M458.0 264.5L460.6 262.9M459.2 266.4L461.4 265.1M460.5 268.2L463.8 266.5M461.2 270.4L464.8 268.5M463.4 271.8L465.2 270.9M464.5 273.9L467.6 272.4M466.1 275.6L467.8 274.8M468.5 277.1L470.4 276.2M469.6 279.1L470.4 278.8M469.2 281.8L471.4 280.9M471.5 283.4L473.0 282.8M471.1 286.0L474.4 284.8M474.0 287.4L476.2 286.6M473.5 290.0L476.0 289.2M476.1 291.7L477.9 291.1M476.6 294.0L477.9 293.6M476.0 296.6L480.0 295.5M477.8 298.5L479.8 298.0M479.9 300.4L481.7 300.0M480.4 302.7L481.5 302.5M481.4 305.0L482.3 304.8M482.2 307.2L483.8 306.9M481.6 309.7L484.8 309.2M483.7 311.8L485.2 311.6M482.1 314.5L486.1 313.9M482.7 316.8L485.6 316.4M482.8 319.1L485.8 318.8M483.1 321.5L486.5 321.2M483.6 323.8L487.6 323.5M483.7 326.2L487.3 326.0M483.6 328.6L487.1 328.4M483.3 331.0L487.0 330.8M483.3 333.3L488.0 333.2M484.7 335.7L487.0 335.7M484.5 338.1L488.4 338.1M483.5 340.4L488.2 340.6M484.2 342.8L487.4 343.0M485.1 345.2L487.1 345.4M480.3 347.3L484.5 347.6M481.3 349.7L483.6 349.9M481.5 347.7A145.5 145.5 0 0 1 480.5 356.4M480.3 351.9L483.9 352.3M479.3 354.1L483.1 354.6M478.1 356.3L482.3 356.9M476.3 357.5L477.9 357.8M476.8 353.6A141.5 141.5 0 0 1 473.7 369.9M478.3 358.7L482.0 359.3M478.4 357.8A143.6 143.6 0 0 1 477.8 361.5M479.3 361.2L483.0 361.8M478.5 363.4L481.4 364.0M477.0 365.5L481.0 366.3M477.0 367.8L480.2 368.6M477.3 366.4A144.1 144.1 0 0 1 475.9 372.4M476.0 370.0L481.2 371.2M477.1 372.7L479.8 373.4M474.8 374.4L480.0 375.9M474.3 376.7L478.2 377.8M474.5 376.0A143.8 143.8 0 0 1 473.5 379.1M471.5 377.4L473.8 378.1M472.6 373.6A141.3 141.3 0 0 1 468.5 386.2M474.1 379.0L477.2 380.0M473.4 381.2L476.1 382.1M472.0 383.2L475.4 384.4M471.6 385.5L474.6 386.6M471.8 384.8A144.0 144.0 0 0 1 470.6 388.0M470.5 387.6L474.1 389.0M470.3 390.0L473.7 391.4M469.8 392.3L473.1 393.7M468.8 394.4L472.5 396.1M469.3 393.2A144.8 144.8 0 0 1 466.9 398.5M467.0 396.1L471.7 398.3M464.6 396.7L466.3 397.5M466.3 393.1A141.9 141.9 0 0 1 458.8 407.7M466.7 398.6L469.0 399.7M466.1 400.9L469.5 402.6M464.6 402.7L468.1 404.6M465.5 400.9A144.6 144.6 0 0 1 461.3 408.5M462.4 404.2L466.6 406.5M462.1 406.6L466.0 408.8M461.6 409.0L464.8 410.9M460.3 411.0L463.8 413.1M461.2 409.4A145.0 145.0 0 0 1 457.1 416.0M459.4 413.1L461.5 414.5M456.8 414.2L460.1 416.4M453.9 414.2L455.9 415.5M456.1 410.8A141.3 141.3 0 0 1 451.2 418.1M457.2 417.3L459.5 418.9M455.5 419.0L458.3 420.9M456.5 417.5A145.3 145.3 0 0 1 452.0 423.8M453.9 420.7L455.9 422.2M453.2 423.1L455.7 425.0M451.2 424.5L454.0 426.7M450.1 426.6L451.8 428.0M451.3 425.2A145.6 145.6 0 0 1 446.1 431.5M447.9 427.9L450.4 429.9M446.5 429.7L449.9 432.6M444.9 431.4L448.3 434.4M441.0 429.9L443.9 432.5M443.6 426.9A140.7 140.7 0 0 1 434.4 436.7M443.7 433.5L446.4 435.9M444.9 432.1A145.2 145.2 0 0 1 439.6 437.8M442.9 435.9L445.0 437.8M441.1 437.4L442.6 438.8M438.6 438.2L441.2 440.8M438.0 441.0L439.6 442.6M439.2 439.8A146.3 146.3 0 0 1 434.0 444.7M435.1 441.3L437.5 443.9M433.8 443.4L436.6 446.4M432.8 445.8L434.9 448.1M430.4 446.6L432.9 449.4M431.6 445.6A145.4 145.4 0 0 1 426.6 449.7M427.6 445.5L429.3 447.5M430.6 442.9A142.7 142.7 0 0 1 423.7 448.6M429.6 449.3L430.6 450.5M428.0 451.0L429.7 453.2M424.7 450.6L427.3 453.9M424.0 453.6L426.0 456.2M425.2 452.7A146.9 146.9 0 0 1 420.1 456.5M421.4 453.9L423.2 456.5M420.5 456.7L421.2 457.9M418.0 457.4L419.2 459.1M416.0 458.6L418.1 461.8M416.8 458.0A146.4 146.4 0 0 1 413.3 460.3M414.4 460.5L415.6 462.4M411.2 458.2L413.1 461.3M414.6 456.0A143.5 143.5 0 0 1 400.4 464.1M411.7 460.5L414.0 464.4M410.0 462.3L411.1 464.1M407.4 462.5L409.5 466.2M408.7 461.8A145.4 145.4 0 0 1 403.2 464.8M405.8 464.3L407.0 466.7M403.7 465.6L405.1 468.2M402.2 467.8L402.7 468.8M400.0 468.7L401.3 471.4M400.9 468.3A147.5 147.5 0 0 1 397.1 470.0M398.1 470.1L399.0 472.2M395.9 471.1L396.5 472.4M393.5 469.5L394.5 471.7M397.3 467.8A145.5 145.5 0 0 1 385.6 472.6M393.8 472.3L394.5 474.0M391.1 471.8L392.2 474.6M392.2 471.4A146.7 146.7 0 0 1 387.4 473.2M388.6 472.0L389.7 474.9M387.1 474.7L387.6 476.2M385.0 475.8L385.4 476.9M382.2 475.0L383.3 478.2M383.2 474.7A146.7 146.7 0 0 1 378.8 476.1M380.1 476.1L381.2 479.8M378.2 478.0L378.8 480.3M375.7 478.1L376.6 481.2M373.2 474.8L374.2 478.5M377.1 473.7A144.0 144.0 0 0 1 363.1 477.1M373.5 479.0L373.8 480.2M375.3 478.5A148.1 148.1 0 0 1 367.3 480.5M371.0 479.0L371.8 482.2M368.9 480.0L369.3 481.9M366.2 479.1L367.2 483.7M364.0 479.8L364.6 483.3M365.2 479.6A146.8 146.8 0 0 1 359.7 480.6M361.7 480.7L362.4 484.3M359.7 482.9L359.8 483.8M357.2 482.5L357.4 484.2M354.8 482.6L355.1 484.8M355.8 482.5A148.1 148.1 0 0 1 351.4 483.0M353.1 480.9L353.3 482.8M357.1 480.4A146.2 146.2 0 0 1 346.9 481.5M352.5 483.8L352.7 485.3M350.0 482.4L350.4 486.4M347.8 484.6L347.9 485.7M345.3 482.7L345.4 485.4M346.2 482.6A147.3 147.3 0 0 1 342.2 482.8M342.9 483.4L343.0 485.4M340.6 483.2L340.6 485.9M338.2 484.2L338.2 487.2M335.8 484.7L335.8 486.3M337.2 484.7A149.1 149.1 0 0 1 331.1 484.6M333.4 484.2L333.4 486.2M331.9 481.8L331.9 484.1M336.0 481.8A146.2 146.2 0 0 1 327.6 481.6M331.1 483.5L330.9 487.4M328.7 483.1L328.5 486.4M326.2 484.3L326.0 487.0M327.4 484.3A149.0 149.0 0 0 1 322.5 484.0M323.9 483.3L323.7 485.6M321.5 483.4L321.3 485.8M319.0 484.6L318.8 486.4M316.6 484.1L316.5 484.9M317.4 484.2A149.9 149.9 0 0 1 313.8 483.7M314.3 483.5L313.9 485.9M312.0 482.6L311.6 485.0M310.7 480.8L310.4 482.3M314.8 481.5A147.5 147.5 0 0 1 302.2 479.1M309.4 483.3L309.1 485.1M307.1 482.7L306.6 484.9M308.2 483.0A150.1 150.1 0 0 1 303.2 481.9M305.1 480.5L304.6 482.9M302.5 481.0L301.9 483.4M299.9 481.5L299.5 483.0M297.7 480.3L297.2 482.5M299.2 480.6A149.8 149.8 0 0 1 292.9 478.9M295.5 479.5L295.2 480.5M293.0 479.4L292.7 480.2M290.6 479.0L290.2 480.3M289.8 476.4L289.1 478.6M293.7 477.7A148.4 148.4 0 0 1 284.8 474.7M288.8 476.8L287.8 479.5M290.5 477.3A149.0 149.0 0 0 1 282.9 474.6M286.6 475.7L285.9 477.7M284.0 475.9L283.2 477.9M281.8 474.8L281.2 476.4M279.4 474.4L279.1 475.2M280.5 474.9A150.1 150.1 0 0 1 275.5 472.8M277.3 473.2L276.1 476.0M274.9 472.7L273.9 474.9M272.8 471.4L272.2 472.7M270.9 469.9L269.3 473.0M272.6 470.7A149.5 149.5 0 0 1 265.3 467.0M270.5 467.2L269.5 469.2M274.2 469.0A147.2 147.2 0 0 1 267.0 465.4M268.4 469.4L267.4 471.4M266.3 468.2L265.6 469.6M263.9 467.6L262.8 469.6M262.3 465.5L261.5 466.9M263.4 466.2A149.6 149.6 0 0 1 258.5 463.3M259.9 464.8L258.7 466.9M258.1 463.1L256.5 465.8M255.3 463.0L254.7 464.1M254.0 460.7L252.1 463.5M255.1 461.4A149.8 149.8 0 0 1 250.5 458.3M251.1 460.6L250.6 461.3M251.0 458.1L249.8 459.7M254.4 460.4A149.4 149.4 0 0 1 240.2 449.8M249.8 458.2L248.0 460.8M247.5 457.3L246.9 458.1M246.0 455.3L244.6 457.1M247.4 456.4A150.1 150.1 0 0 1 241.2 451.5M242.9 455.3L242.4 456.0M241.8 452.8L241.0 453.8M239.0 452.4L238.5 453.0M238.6 449.1L237.4 450.5M239.7 450.0A149.9 149.9 0 0 1 235.1 446.0M235.3 449.1L234.4 450.2M233.8 447.2L232.4 448.7M235.2 443.4L232.6 446.2M238.3 446.2A147.9 147.9 0 0 1 229.6 437.8M232.9 444.6L230.7 447.0M228.7 445.4L228.2 446.0M227.1 443.5L226.3 444.3M225.9 441.2L224.7 442.4M224.6 439.1L223.5 440.2M222.8 437.5L221.3 438.8M219.9 436.8L219.3 437.3M218.2 434.9L217.6 435.4M217.8 432.0L215.7 433.7M215.4 430.8L214.7 431.3M215.4 427.7L213.2 429.4M213.3 426.2L211.0 427.9M212.2 423.9L210.4 425.2M209.4 422.9L208.7 423.4M209.0 420.2L206.8 421.6M206.9 418.6L206.2 419.1M207.1 415.6L205.4 416.6M204.0 414.6L203.3 415.0M203.1 412.3L201.4 413.2M202.8 409.6L201.3 410.4M200.2 408.2L199.5 408.6M200.6 405.2L198.2 406.5M199.4 403.1L197.8 403.8M199.0 400.5L195.9 402.0M195.9 399.2L195.1 399.6M194.9 397.0L194.1 397.3M195.5 394.0L193.4 394.9M192.9 392.4L191.5 393.0M193.4 389.6L191.9 390.1M192.4 387.3L190.6 388.0M190.4 385.4L189.7 385.7M190.0 383.0L188.6 383.4M189.2 380.6L187.7 381.1M189.0 378.1L187.9 378.4M189.0 375.5L187.2 376.0M187.3 373.4L186.5 373.6M188.1 370.7L185.2 371.4M187.4 368.3L186.0 368.7M187.5 365.8L184.5 366.4M186.3 363.6L183.2 364.1M184.5 361.4L182.7 361.7M185.6 358.7L184.1 358.9M185.7 356.2L182.9 356.6M183.8 354.0L182.7 354.1M184.7 351.4L182.5 351.6M183.5 349.0L181.7 349.2M183.0 346.6L181.2 346.7M183.1 344.1L182.3 344.2M182.5 341.7L181.7 341.7M183.1 339.2L181.8 339.2M182.7 336.7L181.9 336.7M183.9 334.3L182.0 334.2M184.2 331.8L180.8 331.7M183.2 329.3L182.0 329.3M183.8 326.9L180.8 326.7M183.6 324.4L182.4 324.3M183.1 321.9L181.8 321.8M182.9 319.4L182.1 319.3M184.4 317.1L182.0 316.8M183.8 314.5L182.1 314.3M186.2 312.4L183.7 312.0M186.4 309.9L184.3 309.6M184.7 307.1L183.9 307.0M185.3 304.7L184.5 304.5M186.0 302.3L185.2 302.1M188.0 300.2L185.2 299.6M186.9 297.4L186.2 297.2M188.4 295.3L186.7 294.8M190.0 293.2L187.9 292.5M190.9 290.9L188.9 290.3M191.3 288.4L188.9 287.6M191.2 285.8L190.4 285.5M193.5 284.0L191.0 283.1" fill="none" stroke="#000" stroke-width="0.62"/>
<path d="M483.2 304.4A150.0 150.0 0 0 1 486.1 346.1M265.7 468.7A150.8 150.8 0 0 1 231.2 443.5M300.6 479.8A148.6 148.6 0 0 1 253.4 458.8M336.5 481.8A146.2 146.2 0 0 1 286.5 473.0M390.4 469.0A143.9 143.9 0 0 1 319.0 478.4M427.9 444.5A142.2 142.2 0 0 1 373.3 473.0M453.3 414.4A140.9 140.9 0 0 1 413.2 453.8" fill="none" stroke="#000" stroke-width="1.0"/>
<path d="M229.0 445.7A153.9 153.9 0 0 1 192.2 282.2" fill="none" stroke="#000" stroke-width="1.4"/>
<text x="191.5" y="376.5" font-size="15" font-weight="bold" fill="#DD6670">CC5.6</text>
<text x="321.3" y="466.7" font-size="15" font-weight="bold" fill="#E08E35">CC5.5</text>
<text x="406.5" y="376.5" font-size="15" font-weight="bold" fill="#93CF78">CC5.4</text>
<text x="400.5" y="291.5" font-size="15" font-weight="bold" fill="#6FA8DC">CC5.3</text>
<text x="298.2" y="197.7" font-size="15" font-weight="bold" fill="#C2739F">CC5.2</text>
<text x="202.3" y="258.9" font-size="15" font-weight="bold" fill="#8F83D8">CC5.1</text>
<path d="M23.4 216.6L127.2 255.9" stroke="#000" stroke-width="0.9"/>
<path d="M133.4 258.3L144.6 262.3" stroke="#000" stroke-width="0.9"/>
<path d="M152.3 264.7L174.8 273.5" stroke="#000" stroke-width="0.9"/>
<text x="74.5" y="229.4" font-size="9.5" font-weight="bold" text-anchor="middle" transform="rotate(20 74.5 229.4)" dy="3.2">4</text>
<text x="124.5" y="249.7" font-size="9.5" font-weight="bold" text-anchor="middle" transform="rotate(20 124.5 249.7)" dy="3.2">3</text>
<text x="141.7" y="256.2" font-size="9.5" font-weight="bold" text-anchor="middle" transform="rotate(20 141.7 256.2)" dy="3.2">2</text>
<text x="166.8" y="264.7" font-size="9.5" font-weight="bold" text-anchor="middle" transform="rotate(20 166.8 264.7)" dy="3.2">1</text>
<text transform="translate(134.11 218.75) rotate(-60.0) scale(0.450)" font-size="10" text-anchor="end" font-style="italic" fill="#000">blaZ</text>
<text transform="translate(130.71 216.78) rotate(-60.0) scale(0.450)" font-size="10" text-anchor="end" font-style="italic" fill="#000">mecA</text>
<text transform="translate(127.30 214.82) rotate(-60.0) scale(0.450)" font-size="10" text-anchor="end" font-style="italic" fill="#000">aac(6')-aph(2&quot;)</text>
<text transform="translate(123.90 212.86) rotate(-60.0) scale(0.450)" font-size="10" text-anchor="end" font-style="italic" fill="#000">aadD</text>
<text transform="translate(120.50 210.89) rotate(-60.0) scale(0.450)" font-size="10" text-anchor="end" font-style="italic" fill="#000">aph(2&quot;)-Ia</text>
<text transform="translate(117.09 208.93) rotate(-60.0) scale(0.450)" font-size="10" text-anchor="end" font-style="italic" fill="#000">aph(3')-III</text>
<text transform="translate(113.69 206.96) rotate(-60.0) scale(0.450)" font-size="10" text-anchor="end" font-style="italic" fill="#000">ant(6)-Ia</text>
<text transform="translate(110.29 204.99) rotate(-60.0) scale(0.450)" font-size="10" text-anchor="end" font-style="italic" fill="#000">mphC</text>
<text transform="translate(106.88 203.03) rotate(-60.0) scale(0.450)" font-size="10" text-anchor="end" font-style="italic" fill="#000">msrA</text>
<text transform="translate(103.48 201.06) rotate(-60.0) scale(0.450)" font-size="10" text-anchor="end" font-style="italic" fill="#000">ermB</text>
<text transform="translate(100.08 199.10) rotate(-60.0) scale(0.450)" font-size="10" text-anchor="end" font-style="italic" fill="#000">ermC</text>
<text transform="translate(96.67 197.13) rotate(-60.0) scale(0.450)" font-size="10" text-anchor="end" font-style="italic" fill="#000">tetK</text>
<text transform="translate(93.27 195.17) rotate(-60.0) scale(0.450)" font-size="10" text-anchor="end" font-style="italic" fill="#000">tetL</text>
<text transform="translate(89.86 193.20) rotate(-60.0) scale(0.450)" font-size="10" text-anchor="end" font-style="italic" fill="#000">tetM</text>
<text transform="translate(86.46 191.24) rotate(-60.0) scale(0.450)" font-size="10" text-anchor="end" font-style="italic" fill="#000">cat</text>
<text transform="translate(83.06 189.27) rotate(-60.0) scale(0.450)" font-size="10" text-anchor="end" font-style="italic" fill="#000">fexA</text>
<text transform="translate(79.65 187.31) rotate(-60.0) scale(0.450)" font-size="10" text-anchor="end" font-style="italic" fill="#000">cfr</text>
<text transform="translate(76.25 185.34) rotate(-60.0) scale(0.450)" font-size="10" text-anchor="end" font-style="italic" fill="#000">dfrG</text>
<text transform="translate(72.85 183.38) rotate(-60.0) scale(0.450)" font-size="10" text-anchor="end" font-style="italic" fill="#000">fosB</text>
<text transform="translate(69.44 181.41) rotate(-60.0) scale(0.450)" font-size="10" text-anchor="end" font-style="italic" fill="#000">lnu(A)</text>
<text transform="translate(66.04 179.45) rotate(-60.0) scale(0.450)" font-size="10" text-anchor="end" font-style="italic" fill="#000">qacA</text>
<text transform="translate(62.64 177.48) rotate(-60.0) scale(0.450)" font-size="10" text-anchor="end" font-style="italic" fill="#000">qacB</text>
<text transform="translate(59.23 175.52) rotate(-60.0) scale(0.450)" font-size="10" text-anchor="end" font-style="italic" fill="#000">qacG</text>
<text transform="translate(55.83 173.55) rotate(-60.0) scale(0.450)" font-size="10" text-anchor="end" font-style="italic" fill="#000">mupA</text>
<text transform="translate(52.43 171.59) rotate(-60.0) scale(0.450)" font-size="10" text-anchor="end" font-style="italic" fill="#000">str</text>
<text transform="translate(49.02 169.62) rotate(-60.0) scale(0.450)" font-size="10" text-anchor="end" font-style="italic" fill="#000">vanA</text>
<text transform="translate(140.35 222.35) rotate(-60.0) scale(0.450)" font-size="10" text-anchor="end" fill="#000">ARG count</text>
<text transform="translate(151.42 229.17) rotate(-60.1) scale(0.450)" font-size="10" text-anchor="end" fill="#000">non-mobilizable</text>
<text transform="translate(154.54 230.97) rotate(-60.1) scale(0.450)" font-size="10" text-anchor="end" fill="#000">mobilizable</text>
<text transform="translate(157.75 232.81) rotate(-60.1) scale(0.450)" font-size="10" text-anchor="end" fill="#000">conjugative</text>
<text transform="translate(184.73 248.68) rotate(-60.2) scale(0.450)" font-size="10" text-anchor="end" fill="#000">Rep1</text>
<text transform="translate(181.40 246.78) rotate(-60.2) scale(0.450)" font-size="10" text-anchor="end" fill="#000">Rep2</text>
<text transform="translate(178.08 244.87) rotate(-60.2) scale(0.450)" font-size="10" text-anchor="end" fill="#000">Rep3</text>
<text transform="translate(174.76 242.97) rotate(-60.2) scale(0.450)" font-size="10" text-anchor="end" fill="#000">RepA_N</text>
<text transform="translate(171.43 241.07) rotate(-60.2) scale(0.450)" font-size="10" text-anchor="end" fill="#000">RepL</text>
<text transform="translate(168.11 239.16) rotate(-60.2) scale(0.450)" font-size="10" text-anchor="end" fill="#000">Rep_trans</text>
<text x="10.0" y="634.2" font-size="14.25" font-weight="bold" fill="#111">Tree scale: 10</text>
<path d="M113.3 630.2H127.7M113.3 627.5V632.9M127.7 627.5V632.9" stroke="#000" stroke-width="0.9" fill="none"/>
<text x="42.9" y="691.0" font-size="14.3" font-weight="bold" fill="#111">1. Plasmid replicon</text>
<text x="44.9" y="781.6" font-size="14.3" font-weight="bold" fill="#111">2. Mobility</text>
<text x="199.5" y="693.5" font-size="14.38" font-weight="bold" fill="#111">3. Number of plasmid-borne ARGs</text>
<text x="460.3" y="692.3" font-size="14.45" font-weight="bold" fill="#111">4. ARGs on plasmids</text>
<rect x="42.9" y="701.0" width="12.8" height="12.8" fill="#5566D6"/>
<text x="64.7" y="712.2" font-size="11.85" fill="#111">RepA_N</text>
<rect x="109.4" y="701.3" width="12.8" height="12.8" fill="#885544"/>
<text x="131.7" y="713.5" font-size="11.85" fill="#111">Rep1</text>
<rect x="42.9" y="720.9" width="12.8" height="12.8" fill="#2E8B22"/>
<text x="64.7" y="731.5" font-size="11.85" fill="#111">Rep3</text>
<rect x="109.4" y="720.9" width="12.8" height="12.8" fill="#5FDDD0"/>
<text x="131.7" y="733.8" font-size="11.85" fill="#111">RepL</text>
<rect x="42.9" y="739.0" width="12.8" height="12.8" fill="#FF2211"/>
<text x="64.7" y="749.4" font-size="11.85" fill="#111">Rep2</text>
<rect x="109.4" y="739.0" width="12.8" height="12.8" fill="#BB22FF"/>
<text x="131.7" y="751.9" font-size="11.85" fill="#111">Rep_trans</text>
<rect x="42.9" y="791.8" width="12.8" height="12.8" fill="#5588BB"/>
<text x="64.7" y="803.0" font-size="11.85" fill="#111">non-mobilizable</text>
<rect x="42.9" y="811.4" width="12.8" height="12.8" fill="#881199"/>
<text x="64.7" y="822.0" font-size="11.85" fill="#111">mobilizable</text>
<rect x="42.9" y="830.0" width="12.8" height="12.8" fill="#50BE72"/>
<text x="64.7" y="840.0" font-size="11.85" fill="#111">conjugative</text>
<rect x="201.4" y="706.0" width="12.8" height="12.8" fill="#EEEAEB"/>
<text x="223.4" y="716.7" font-size="11.85" fill="#111">No plasmid</text>
<rect x="202.0" y="726.3" width="11.8" height="11.8" fill="#FFFFFF" stroke="#111" stroke-width="1"/>
<text x="223.4" y="735.3" font-size="11.85" fill="#111">0</text>
<rect x="201.4" y="744.0" width="12.8" height="12.8" fill="#B8E6A5"/>
<text x="223.4" y="754.2" font-size="11.85" fill="#111">1-5</text>
<rect x="201.4" y="763.0" width="12.8" height="12.8" fill="#8FCF6F"/>
<text x="223.4" y="773.6" font-size="11.85" fill="#111">6-10</text>
<rect x="201.4" y="782.7" width="12.8" height="12.8" fill="#62A850"/>
<text x="223.4" y="794.0" font-size="11.85" fill="#111">11-15</text>
<rect x="201.4" y="800.0" width="12.8" height="12.8" fill="#3A9A30"/>
<text x="223.4" y="813.0" font-size="11.85" fill="#111">16-20</text>
<rect x="461.0" y="704.3" width="12.8" height="12.8" fill="#EF6570"/>
<text x="483.3" y="715.6" font-size="11.85" font-style="italic" fill="#111">blaZ</text>
<rect x="461.0" y="724.2" width="12.8" height="12.8" fill="#EF6570"/>
<text x="483.3" y="735.2" font-size="11.85" font-style="italic" fill="#111">mecA</text>
<rect x="461.0" y="742.7" width="12.8" height="12.8" fill="#EBBF3B"/>
<text x="483.3" y="753.0" font-size="11.85" font-style="italic" fill="#111">aac(6')-aph(2&quot;)</text>
<rect x="461.0" y="760.9" width="12.8" height="12.8" fill="#EBBF3B"/>
<text x="483.3" y="772.2" font-size="11.85" font-style="italic" fill="#111">aadD</text>
<rect x="461.0" y="780.5" width="12.8" height="12.8" fill="#EBBF3B"/>
<text x="483.3" y="792.8" font-size="11.85" font-style="italic" fill="#111">aph(2&quot;)-Ia</text>
<rect x="461.0" y="798.6" width="12.8" height="12.8" fill="#EBBF3B"/>
<text x="483.3" y="811.0" font-size="11.85" font-style="italic" fill="#111">aph(3')-III</text>
<rect x="461.0" y="822.3" width="12.8" height="12.8" fill="#EBBF3B"/>
<text x="483.3" y="833.3" font-size="11.85" font-style="italic" fill="#111">ant(6)-Ia</text>
<rect x="461.0" y="841.9" width="12.8" height="12.8" fill="#F2FD3E"/>
<text x="483.3" y="852.1" font-size="11.85" font-style="italic" fill="#111">mphC</text>
<rect x="461.0" y="860.0" width="12.8" height="12.8" fill="#F2FD3E"/>
<text x="483.3" y="870.3" font-size="11.85" font-style="italic" fill="#111">msrA</text>
<rect x="461.0" y="878.9" width="12.8" height="12.8" fill="#F2FD3E"/>
<text x="483.3" y="889.2" font-size="11.85" font-style="italic" fill="#111">ermB</text>
<rect x="461.0" y="898.5" width="12.8" height="12.8" fill="#F2FD3E"/>
<text x="483.3" y="910.5" font-size="11.85" font-style="italic" fill="#111">ermC</text>
<rect x="461.0" y="917.3" width="12.8" height="12.8" fill="#F2FD3E"/>
<text x="483.3" y="929.3" font-size="11.85" font-style="italic" fill="#111">ermT</text>
<rect x="562.2" y="704.3" width="12.8" height="12.8" fill="#9966FF"/>
<text x="584.5" y="715.3" font-size="11.85" font-style="italic" fill="#111">cfr</text>
<rect x="562.2" y="723.2" width="12.8" height="12.8" fill="#9966FF"/>
<text x="584.5" y="732.4" font-size="11.85" font-style="italic" fill="#111">optrA</text>
<rect x="562.2" y="741.4" width="12.8" height="12.8" fill="#CC2288"/>
<text x="584.5" y="752.3" font-size="11.85" font-style="italic" fill="#111">dfrG</text>
<rect x="562.2" y="760.6" width="12.8" height="12.8" fill="#CC2288"/>
<text x="584.5" y="772.9" font-size="11.85" font-style="italic" fill="#111">dfrK</text>
<rect x="562.2" y="779.1" width="12.8" height="12.8" fill="#EEC8AA"/>
<text x="584.5" y="791.8" font-size="11.85" font-style="italic" fill="#111">fosB</text>
<rect x="562.2" y="798.6" width="12.8" height="12.8" fill="#EEC8AA"/>
<text x="584.5" y="809.6" font-size="11.85" font-style="italic" fill="#111">fosD</text>
<rect x="562.2" y="818.2" width="12.8" height="12.8" fill="#BF9628"/>
<text x="584.5" y="827.4" font-size="11.85" font-style="italic" fill="#111">fusB</text>
<rect x="562.2" y="837.0" width="12.8" height="12.8" fill="#99E055"/>
<text x="584.5" y="847.3" font-size="11.85" font-style="italic" fill="#111">lnu(A)</text>
<rect x="562.2" y="855.9" width="12.8" height="12.8" fill="#99E055"/>
<text x="584.5" y="867.6" font-size="11.85" font-style="italic" fill="#111">lsa(B)</text>
<rect x="562.2" y="874.8" width="12.8" height="12.8" fill="#B4C4EA"/>
<text x="584.5" y="886.4" font-size="11.85" font-style="italic" fill="#111">qacA</text>
<rect x="562.2" y="896.7" width="12.8" height="12.8" fill="#B4C4EA"/>
<text x="584.5" y="908.0" font-size="11.85" font-style="italic" fill="#111">qacB</text>
<rect x="562.2" y="916.6" width="12.8" height="12.8" fill="#B4C4EA"/>
<text x="584.5" y="927.0" font-size="11.85" font-style="italic" fill="#111">qacD</text>
<rect x="562.2" y="936.2" width="12.8" height="12.8" fill="#B4C4EA"/>
<text x="584.5" y="944.8" font-size="11.85" font-style="italic" fill="#111">qacG</text>
<rect x="632.8" y="704.3" width="12.8" height="12.8" fill="#55BBEE"/>
<text x="654.8" y="717.0" font-size="11.85" font-style="italic" fill="#111">cat</text>
<rect x="632.8" y="723.2" width="12.8" height="12.8" fill="#55BBEE"/>
<text x="654.8" y="735.9" font-size="11.85" font-style="italic" fill="#111">fexA</text>
<rect x="632.8" y="746.2" width="12.8" height="12.8" fill="#55BBEE"/>
<text x="654.8" y="756.4" font-size="11.85" font-style="italic" fill="#111">fexB</text>
<rect x="632.8" y="769.5" width="12.8" height="12.8" fill="#44C060"/>
<text x="654.8" y="780.5" font-size="11.85" font-style="italic" fill="#111">tetK</text>
<rect x="632.8" y="789.0" width="12.8" height="12.8" fill="#44C060"/>
<text x="654.8" y="799.7" font-size="11.85" font-style="italic" fill="#111">tetL</text>
<rect x="632.8" y="808.6" width="12.8" height="12.8" fill="#44C060"/>
<text x="654.8" y="818.9" font-size="11.85" font-style="italic" fill="#111">tetM</text>
<rect x="632.8" y="829.2" width="12.8" height="12.8" fill="#44C060"/>
<text x="654.8" y="839.5" font-size="11.85" font-style="italic" fill="#111">tetS</text>
<rect x="632.8" y="849.0" width="12.8" height="12.8" fill="#CC6622"/>
<text x="654.8" y="859.0" font-size="11.85" font-style="italic" fill="#111">mupA</text>
<rect x="632.8" y="868.6" width="12.8" height="12.8" fill="#808080"/>
<text x="654.8" y="880.6" font-size="11.85" font-style="italic" fill="#111">vanA</text>
<rect x="632.8" y="887.5" width="12.8" height="12.8" fill="#99EEDD"/>
<text x="654.8" y="899.5" font-size="11.85" font-style="italic" fill="#111">str</text>
</svg>
</body></html>
